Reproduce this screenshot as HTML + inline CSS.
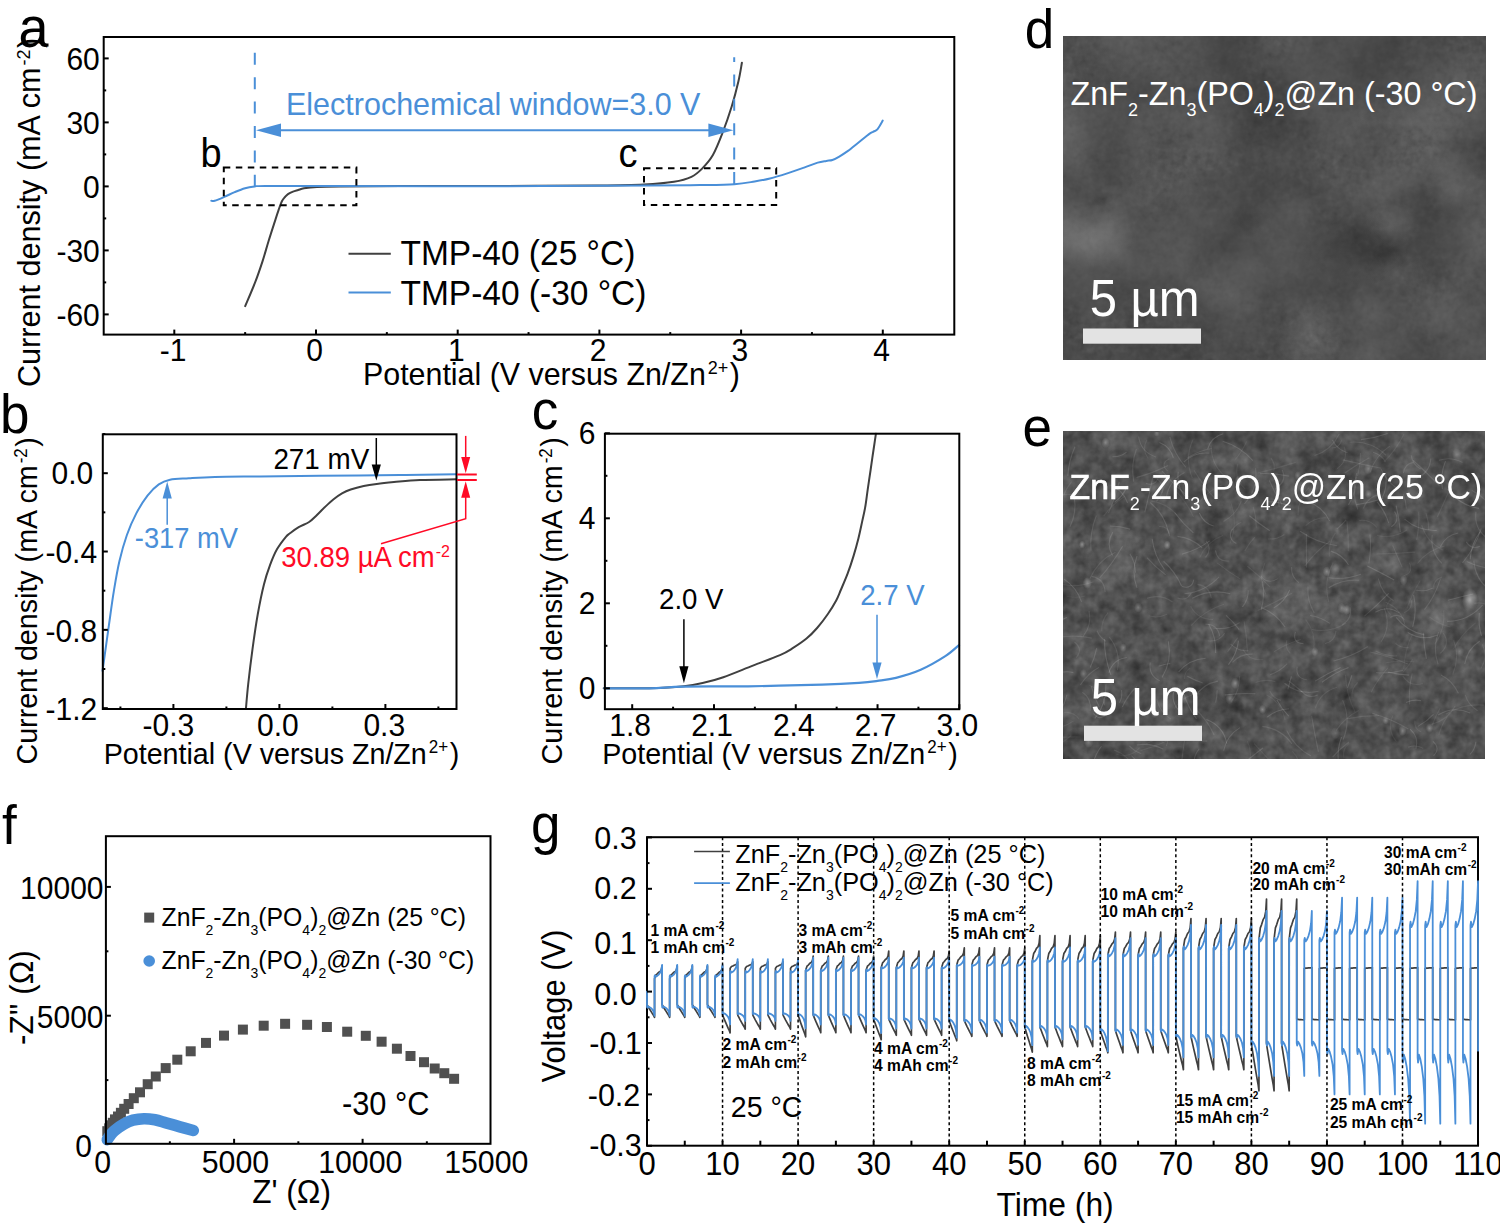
<!DOCTYPE html><html><head><meta charset="utf-8"><style>html,body{margin:0;padding:0;background:#fff;overflow:hidden;}svg{display:block;}</style></head><body>
<svg width="1500" height="1226" viewBox="0 0 1500 1226" font-family='"Liberation Sans", sans-serif'>
<rect width="1500" height="1226" fill="#fff"/>
<path d="M245.2,306.2 C246.9,302.12 252.52,289.17 255.4,281.7 C258.28,274.23 260.3,268.18 262.5,261.4 C264.7,254.62 266.55,247.63 268.6,241 C270.65,234.37 273.1,226.87 274.8,221.6 C276.5,216.33 277.62,212.8 278.8,209.4 C279.98,206 280.87,203.27 281.9,201.2 C282.93,199.13 283.98,198.18 285,197 C286.02,195.82 286.67,195 288,194.1 C289.33,193.2 291.3,192.28 293,191.6 C294.7,190.92 296.37,190.55 298.2,190 C300.03,189.45 300.87,188.82 304,188.3 C307.13,187.78 311,187.22 317,186.9 C323,186.58 326.17,186.53 340,186.4 C353.83,186.27 373.33,186.18 400,186.1 C426.67,186.02 466.67,185.98 500,185.9 C533.33,185.82 576,185.82 600,185.6 C624,185.38 631.68,185.23 644,184.6 C656.32,183.97 666,183.1 673.9,181.8 C681.8,180.5 686.7,179 691.4,176.8 C696.1,174.6 698.52,172.23 702.1,168.6 C705.68,164.97 709.53,160.85 712.9,155 C716.27,149.15 719.17,141.58 722.3,133.5 C725.43,125.42 729,115.25 731.7,106.5 C734.4,97.75 736.8,88.3 738.5,81 C740.2,73.7 741.33,65.75 741.9,62.7" fill="none" stroke="#404040" stroke-width="2" stroke-linejoin="round" stroke-linecap="round"/>
<path d="M211.3,200.8 C211.87,200.8 212.53,201.45 214.7,200.8 C216.87,200.15 220.97,198.35 224.3,196.9 C227.63,195.45 231.23,193.55 234.7,192.1 C238.17,190.65 241.78,189.13 245.1,188.2 C248.42,187.27 251.28,186.88 254.6,186.5 C257.92,186.12 252.43,185.98 265,185.9 C277.57,185.82 290.83,185.95 330,186 C369.17,186.05 446.67,186.27 500,186.2 C553.33,186.13 616.67,185.78 650,185.6 C683.33,185.42 685.93,185.33 700,185.1 C714.07,184.87 725.3,184.8 734.4,184.2 C743.5,183.6 748.67,182.45 754.6,181.5 C760.53,180.55 764.55,179.85 770,178.5 C775.45,177.15 781.52,175.25 787.3,173.4 C793.08,171.55 799.63,169.2 804.7,167.4 C809.77,165.6 814.1,163.68 817.7,162.6 C821.3,161.52 823.85,161.33 826.3,160.9 C828.75,160.47 830.23,160.72 832.4,160 C834.57,159.28 836.7,158.12 839.3,156.6 C841.9,155.08 845.83,152.42 848,150.9 C850.17,149.38 850.13,149.23 852.3,147.5 C854.47,145.77 858.72,142.33 861,140.5 C863.28,138.67 864.55,137.65 866,136.5 C867.45,135.35 868.53,134.38 869.7,133.6 C870.87,132.82 871.85,132.38 873,131.8 C874.15,131.22 875.57,130.95 876.6,130.1 C877.63,129.25 878.18,128.28 879.2,126.7 C880.22,125.12 882.12,121.62 882.7,120.6" fill="none" stroke="#4a8fd8" stroke-width="2" stroke-linejoin="round" stroke-linecap="round"/>
<rect x="103.7" y="37" width="850.6" height="297.6" fill="none" stroke="#000" stroke-width="2"/>
<line x1="174.3" y1="334.6" x2="174.3" y2="329.6" stroke="#000" stroke-width="2"/>
<line x1="316" y1="334.6" x2="316" y2="329.6" stroke="#000" stroke-width="2"/>
<line x1="457.7" y1="334.6" x2="457.7" y2="329.6" stroke="#000" stroke-width="2"/>
<line x1="599.4" y1="334.6" x2="599.4" y2="329.6" stroke="#000" stroke-width="2"/>
<line x1="741.1" y1="334.6" x2="741.1" y2="329.6" stroke="#000" stroke-width="2"/>
<line x1="882.8" y1="334.6" x2="882.8" y2="329.6" stroke="#000" stroke-width="2"/>
<line x1="245.15" y1="334.6" x2="245.15" y2="332.1" stroke="#000" stroke-width="2"/>
<line x1="386.85" y1="334.6" x2="386.85" y2="332.1" stroke="#000" stroke-width="2"/>
<line x1="528.55" y1="334.6" x2="528.55" y2="332.1" stroke="#000" stroke-width="2"/>
<line x1="670.25" y1="334.6" x2="670.25" y2="332.1" stroke="#000" stroke-width="2"/>
<line x1="811.95" y1="334.6" x2="811.95" y2="332.1" stroke="#000" stroke-width="2"/>
<line x1="103.7" y1="314.4" x2="108.7" y2="314.4" stroke="#000" stroke-width="2"/>
<line x1="103.7" y1="250.4" x2="108.7" y2="250.4" stroke="#000" stroke-width="2"/>
<line x1="103.7" y1="186.4" x2="108.7" y2="186.4" stroke="#000" stroke-width="2"/>
<line x1="103.7" y1="122.4" x2="108.7" y2="122.4" stroke="#000" stroke-width="2"/>
<line x1="103.7" y1="58.4" x2="108.7" y2="58.4" stroke="#000" stroke-width="2"/>
<line x1="103.7" y1="282.4" x2="106.2" y2="282.4" stroke="#000" stroke-width="2"/>
<line x1="103.7" y1="218.4" x2="106.2" y2="218.4" stroke="#000" stroke-width="2"/>
<line x1="103.7" y1="154.4" x2="106.2" y2="154.4" stroke="#000" stroke-width="2"/>
<line x1="103.7" y1="90.4" x2="106.2" y2="90.4" stroke="#000" stroke-width="2"/>
<text transform="translate(173,360.5) scale(1,1.05)" font-size="30" text-anchor="middle" fill="#000">-1</text>
<text transform="translate(314.7,360.5) scale(1,1.05)" font-size="30" text-anchor="middle" fill="#000">0</text>
<text transform="translate(456.4,360.5) scale(1,1.05)" font-size="30" text-anchor="middle" fill="#000">1</text>
<text transform="translate(598.1,360.5) scale(1,1.05)" font-size="30" text-anchor="middle" fill="#000">2</text>
<text transform="translate(739.8,360.5) scale(1,1.05)" font-size="30" text-anchor="middle" fill="#000">3</text>
<text transform="translate(881.5,360.5) scale(1,1.05)" font-size="30" text-anchor="middle" fill="#000">4</text>
<text transform="translate(99.8,325.6) scale(1,1.05)" font-size="30" text-anchor="end" fill="#000">-60</text>
<text transform="translate(99.8,261.6) scale(1,1.05)" font-size="30" text-anchor="end" fill="#000">-30</text>
<text transform="translate(99.8,197.6) scale(1,1.05)" font-size="30" text-anchor="end" fill="#000">0</text>
<text transform="translate(99.8,133.6) scale(1,1.05)" font-size="30" text-anchor="end" fill="#000">30</text>
<text transform="translate(99.8,69.6) scale(1,1.05)" font-size="30" text-anchor="end" fill="#000">60</text>
<text transform="translate(363,384.6) scale(1,1.05)" font-size="30.4" fill="#000">Potential (V versus Zn/Zn<tspan font-size="18" dy="-10" dx="2">2+</tspan><tspan dy="10" dx="1.5">)</tspan></text>
<text transform="translate(40.3,387) rotate(-90) scale(1,1.05)" font-size="30.6" fill="#000">Current density (mA cm<tspan font-size="18" dy="-10" dx="2">-2</tspan><tspan dy="10" dx="1.5">)</tspan></text>
<rect x="223.8" y="167.6" width="132.6" height="37.7" fill="none" stroke="#000" stroke-width="2" stroke-dasharray="6.5 5.5"/>
<rect x="644" y="168.2" width="132.2" height="36.9" fill="none" stroke="#000" stroke-width="2" stroke-dasharray="6.5 5.5"/>
<text transform="translate(200.5,167) scale(1,1.05)" font-size="38" fill="#000">b</text>
<text transform="translate(618.5,166.7) scale(1,1.05)" font-size="38" fill="#000">c</text>
<line x1="254.8" y1="52.8" x2="254.8" y2="186.5" stroke="#4a8fd8" stroke-width="2" stroke-dasharray="12 12.4"/>
<line x1="734.2" y1="57.2" x2="734.2" y2="184.2" stroke="#4a8fd8" stroke-width="2" stroke-dasharray="12 12.4" stroke-dashoffset="7.2"/>
<line x1="275" y1="130.3" x2="714" y2="130.3" stroke="#4a8fd8" stroke-width="2"/>
<polygon points="256,130.3 281,123.5 281,137.1" fill="#4a8fd8"/>
<polygon points="733.4,130.3 708.4,137.1 708.4,123.5" fill="#4a8fd8"/>
<text transform="translate(286,115.3) scale(1,1.05)" font-size="30.5" fill="#4a8fd8">Electrochemical window=3.0 V</text>
<line x1="348.5" y1="253.8" x2="390.8" y2="253.8" stroke="#404040" stroke-width="2"/>
<line x1="348.5" y1="292.6" x2="390.8" y2="292.6" stroke="#4a8fd8" stroke-width="2"/>
<text transform="translate(400.5,264.6) scale(1,1.05)" font-size="33.5" fill="#000">TMP-40 (25 °C)</text>
<text transform="translate(400.5,305) scale(1,1.05)" font-size="33.5" fill="#000">TMP-40 (-30 °C)</text>
<text transform="translate(18.5,47) scale(1,1.05)" font-size="54" fill="#000">a</text>
<path d="M102.5,671 C103.13,666.47 105.05,652.72 106.3,643.8 C107.55,634.88 108.75,626.25 110,617.5 C111.25,608.75 112.23,600.67 113.8,591.3 C115.37,581.93 117.22,570.68 119.4,561.3 C121.58,551.92 124.08,542.98 126.9,535 C129.72,527.02 132.87,519.97 136.3,513.4 C139.73,506.83 143.75,500.43 147.5,495.6 C151.25,490.77 155.05,487.05 158.8,484.4 C162.55,481.75 165,480.73 170,479.7 C175,478.67 181.3,478.67 188.8,478.2 C196.3,477.73 203.13,477.2 215,476.9 C226.87,476.6 242.5,476.58 260,476.4 C277.5,476.22 296.67,476.03 320,475.8 C343.33,475.57 377.33,475.25 400,475 C422.67,474.75 446.67,474.42 456,474.3" fill="none" stroke="#4a8fd8" stroke-width="2" stroke-linejoin="round" stroke-linecap="round"/>
<path d="M245.9,709 C246.28,704.87 247.1,694.18 248.2,684.2 C249.3,674.22 250.9,660.8 252.5,649.1 C254.1,637.4 255.88,624.82 257.8,614 C259.72,603.18 261.95,592.38 264,584.2 C266.05,576.02 267.92,570.75 270.1,564.9 C272.28,559.05 274.47,553.78 277.1,549.1 C279.73,544.42 283.75,539.43 285.9,536.8 C288.05,534.17 287.87,534.9 290,533.3 C292.13,531.7 295.52,529.08 298.7,527.2 C301.88,525.32 306.22,523.88 309.1,522 C311.98,520.12 313.4,518.35 316,515.9 C318.6,513.45 321.82,510.03 324.7,507.3 C327.58,504.57 330.42,501.82 333.3,499.5 C336.18,497.18 339.1,495.07 342,493.4 C344.9,491.73 347.08,490.73 350.7,489.5 C354.32,488.27 359.37,486.93 363.7,486 C368.03,485.07 371.65,484.55 376.7,483.9 C381.75,483.25 386.78,482.75 394,482.1 C401.22,481.45 409.63,480.47 420,480 C430.37,479.53 450.17,479.42 456.2,479.3" fill="none" stroke="#404040" stroke-width="2" stroke-linejoin="round" stroke-linecap="round"/>
<rect x="102.8" y="434.3" width="353.7" height="274.7" fill="none" stroke="#000" stroke-width="2"/>
<line x1="173.41" y1="709" x2="173.41" y2="704" stroke="#000" stroke-width="2"/>
<line x1="279.4" y1="709" x2="279.4" y2="704" stroke="#000" stroke-width="2"/>
<line x1="385.39" y1="709" x2="385.39" y2="704" stroke="#000" stroke-width="2"/>
<line x1="120.41" y1="709" x2="120.41" y2="706.5" stroke="#000" stroke-width="2"/>
<line x1="226.4" y1="709" x2="226.4" y2="706.5" stroke="#000" stroke-width="2"/>
<line x1="332.39" y1="709" x2="332.39" y2="706.5" stroke="#000" stroke-width="2"/>
<line x1="438.38" y1="709" x2="438.38" y2="706.5" stroke="#000" stroke-width="2"/>
<line x1="102.8" y1="473.2" x2="107.8" y2="473.2" stroke="#000" stroke-width="2"/>
<line x1="102.8" y1="551.52" x2="107.8" y2="551.52" stroke="#000" stroke-width="2"/>
<line x1="102.8" y1="629.84" x2="107.8" y2="629.84" stroke="#000" stroke-width="2"/>
<line x1="102.8" y1="708.16" x2="107.8" y2="708.16" stroke="#000" stroke-width="2"/>
<line x1="102.8" y1="434.04" x2="105.3" y2="434.04" stroke="#000" stroke-width="2"/>
<line x1="102.8" y1="512.36" x2="105.3" y2="512.36" stroke="#000" stroke-width="2"/>
<line x1="102.8" y1="590.68" x2="105.3" y2="590.68" stroke="#000" stroke-width="2"/>
<line x1="102.8" y1="669" x2="105.3" y2="669" stroke="#000" stroke-width="2"/>
<text transform="translate(168.31,735.9) scale(1,1.05)" font-size="30" text-anchor="middle" fill="#000">-0.3</text>
<text transform="translate(277.9,735.9) scale(1,1.05)" font-size="30" text-anchor="middle" fill="#000">0.0</text>
<text transform="translate(384.29,735.9) scale(1,1.05)" font-size="30" text-anchor="middle" fill="#000">0.3</text>
<text transform="translate(72.4,484.3) scale(1,1.05)" font-size="30" text-anchor="middle" fill="#000">0.0</text>
<text transform="translate(71.3,563) scale(1,1.05)" font-size="30" text-anchor="middle" fill="#000">-0.4</text>
<text transform="translate(71.4,641.9) scale(1,1.05)" font-size="30" text-anchor="middle" fill="#000">-0.8</text>
<text transform="translate(71.4,719.5) scale(1,1.05)" font-size="30" text-anchor="middle" fill="#000">-1.2</text>
<text transform="translate(103.7,763.7) scale(1,1.05)" font-size="28.65" fill="#000">Potential (V versus Zn/Zn<tspan font-size="17" dy="-10" dx="2">2+</tspan><tspan dy="10" dx="1.5">)</tspan></text>
<text transform="translate(37,764.5) rotate(-90) scale(1,1.05)" font-size="28.65" fill="#000">Current density (mA cm<tspan font-size="17" dy="-10" dx="2">-2</tspan><tspan dy="10" dx="1.5">)</tspan></text>
<text transform="translate(273.4,468.9) scale(1,1.05)" font-size="27.8" fill="#000">271 mV</text>
<line x1="376.3" y1="438" x2="376.3" y2="466" stroke="#000" stroke-width="1.5"/>
<polygon points="376.3,480.6 371.7,464.6 380.9,464.6" fill="#000"/>
<text transform="translate(134.8,548.3) scale(1,1.05)" font-size="27.3" fill="#4a8fd8">-317 mV</text>
<line x1="167.2" y1="524.7" x2="167.2" y2="497" stroke="#4a8fd8" stroke-width="1.5"/>
<polygon points="167.2,481.6 171.8,498.4 162.6,498.4" fill="#4a8fd8"/>
<text transform="translate(281.3,567.1) scale(1,1.05)" font-size="27.5" fill="#ff0a26">30.89 µA cm<tspan font-size="16" dy="-10" dx="1">-2</tspan></text>
<line x1="457" y1="474.5" x2="476.8" y2="474.5" stroke="#ff0a26" stroke-width="2"/>
<line x1="457" y1="480" x2="476.8" y2="480" stroke="#ff0a26" stroke-width="2"/>
<line x1="465.7" y1="435.9" x2="465.7" y2="458" stroke="#ff0a26" stroke-width="1.5"/>
<polygon points="465.7,473.3 461.2,457.1 470.2,457.1" fill="#ff0a26"/>
<polygon points="465.7,481.3 470.2,497.7 461.2,497.7" fill="#ff0a26"/>
<polyline points="465.7,496 465.7,518.7 381,543.7" fill="none" stroke="#ff0a26" stroke-width="1.5"/>
<text transform="translate(0,432.5) scale(1,1.05)" font-size="53" fill="#000">b</text>
<path d="M603.7,688.3 C611.3,688.28 635.93,688.55 649.3,688.2 C662.67,687.85 674.85,687.1 683.9,686.2 C692.95,685.3 697.03,684.3 703.6,682.8 C710.17,681.3 715.08,680.07 723.3,677.2 C731.52,674.33 743.45,669.28 752.9,665.6 C762.35,661.92 773.37,658 780,655.1 C786.63,652.2 788.28,650.95 792.7,648.2 C797.12,645.45 802.43,641.97 806.5,638.6 C810.57,635.23 813.57,632.07 817.1,628 C820.63,623.93 824.52,618.8 827.7,614.2 C830.88,609.6 834.02,604.43 836.2,600.4 C838.38,596.37 838.9,594.45 840.8,590 C842.7,585.55 845.48,579.35 847.6,573.7 C849.72,568.05 851.7,561.97 853.5,556.1 C855.3,550.23 856.93,544.37 858.4,538.5 C859.87,532.63 861.17,526.12 862.3,520.9 C863.43,515.68 864.3,512.42 865.2,507.2 C866.1,501.98 866.8,495.8 867.7,489.6 C868.6,483.4 869.78,475.6 870.6,470 C871.42,464.4 871.97,460.33 872.6,456 C873.23,451.67 873.85,447.7 874.4,444 C874.95,440.3 875.65,435.5 875.9,433.8" fill="none" stroke="#404040" stroke-width="2" stroke-linejoin="round" stroke-linecap="round"/>
<path d="M604.5,688.3 C611.97,688.3 636.07,688.58 649.3,688.3 C662.53,688.02 667.45,686.93 683.9,686.6 C700.35,686.27 724.98,686.63 748,686.3 C771.02,685.97 803.5,685.18 822,684.6 C840.5,684.02 849.75,683.42 859,682.8 C868.25,682.18 871.33,681.72 877.5,680.9 C883.67,680.08 888.8,679.75 896,677.9 C903.2,676.05 912.48,673.42 920.7,669.8 C928.92,666.18 938.92,660.32 945.3,656.2 C951.68,652.08 956.72,646.95 959,645.1" fill="none" stroke="#4a8fd8" stroke-width="2.2" stroke-linejoin="round" stroke-linecap="round"/>
<rect x="604.9" y="433.7" width="354.4" height="275.5" fill="none" stroke="#000" stroke-width="2"/>
<line x1="632.2" y1="709.2" x2="632.2" y2="704.2" stroke="#000" stroke-width="2"/>
<line x1="713.98" y1="709.2" x2="713.98" y2="704.2" stroke="#000" stroke-width="2"/>
<line x1="795.76" y1="709.2" x2="795.76" y2="704.2" stroke="#000" stroke-width="2"/>
<line x1="877.54" y1="709.2" x2="877.54" y2="704.2" stroke="#000" stroke-width="2"/>
<line x1="959.32" y1="709.2" x2="959.32" y2="704.2" stroke="#000" stroke-width="2"/>
<line x1="673.09" y1="709.2" x2="673.09" y2="706.7" stroke="#000" stroke-width="2"/>
<line x1="754.87" y1="709.2" x2="754.87" y2="706.7" stroke="#000" stroke-width="2"/>
<line x1="836.65" y1="709.2" x2="836.65" y2="706.7" stroke="#000" stroke-width="2"/>
<line x1="918.43" y1="709.2" x2="918.43" y2="706.7" stroke="#000" stroke-width="2"/>
<line x1="604.9" y1="688.3" x2="609.9" y2="688.3" stroke="#000" stroke-width="2"/>
<line x1="604.9" y1="603.3" x2="609.9" y2="603.3" stroke="#000" stroke-width="2"/>
<line x1="604.9" y1="518.3" x2="609.9" y2="518.3" stroke="#000" stroke-width="2"/>
<line x1="604.9" y1="433.3" x2="609.9" y2="433.3" stroke="#000" stroke-width="2"/>
<line x1="604.9" y1="645.8" x2="607.4" y2="645.8" stroke="#000" stroke-width="2"/>
<line x1="604.9" y1="560.8" x2="607.4" y2="560.8" stroke="#000" stroke-width="2"/>
<line x1="604.9" y1="475.8" x2="607.4" y2="475.8" stroke="#000" stroke-width="2"/>
<text transform="translate(630.2,735.8) scale(1,1.05)" font-size="30" text-anchor="middle" fill="#000">1.8</text>
<text transform="translate(711.98,735.8) scale(1,1.05)" font-size="30" text-anchor="middle" fill="#000">2.1</text>
<text transform="translate(793.76,735.8) scale(1,1.05)" font-size="30" text-anchor="middle" fill="#000">2.4</text>
<text transform="translate(875.54,735.8) scale(1,1.05)" font-size="30" text-anchor="middle" fill="#000">2.7</text>
<text transform="translate(957.32,735.8) scale(1,1.05)" font-size="30" text-anchor="middle" fill="#000">3.0</text>
<text transform="translate(595.5,699.3) scale(1,1.05)" font-size="30" text-anchor="end" fill="#000">0</text>
<text transform="translate(595.5,614.3) scale(1,1.05)" font-size="30" text-anchor="end" fill="#000">2</text>
<text transform="translate(595.5,529.3) scale(1,1.05)" font-size="30" text-anchor="end" fill="#000">4</text>
<text transform="translate(595.5,444.3) scale(1,1.05)" font-size="30" text-anchor="end" fill="#000">6</text>
<text transform="translate(602.2,763.7) scale(1,1.05)" font-size="28.65" fill="#000">Potential (V versus Zn/Zn<tspan font-size="17" dy="-10" dx="2">2+</tspan><tspan dy="10" dx="1.5">)</tspan></text>
<text transform="translate(562,764.5) rotate(-90) scale(1,1.05)" font-size="28.65" fill="#000">Current density (mA cm<tspan font-size="17" dy="-10" dx="2">-2</tspan><tspan dy="10" dx="1.5">)</tspan></text>
<text transform="translate(659.1,609.3) scale(1,1.05)" font-size="27.6" fill="#000">2.0 V</text>
<line x1="683.9" y1="619.2" x2="683.9" y2="668" stroke="#000" stroke-width="1.5"/>
<polygon points="683.9,683.3 679.3,666.3 688.5,666.3" fill="#000"/>
<text transform="translate(860.2,604.9) scale(1,1.05)" font-size="27.6" fill="#4a8fd8">2.7 V</text>
<line x1="877" y1="614.8" x2="877" y2="664" stroke="#4a8fd8" stroke-width="1.5"/>
<polygon points="877,678.9 872.4,662.4 881.6,662.4" fill="#4a8fd8"/>
<text transform="translate(531.7,429.3) scale(1,1.05)" font-size="53" fill="#000">c</text>
<rect x="102.3" y="1126.2" width="10" height="10" fill="#505050"/>
<rect x="104.2" y="1123.3" width="10" height="10" fill="#505050"/>
<rect x="106" y="1120.3" width="10" height="10" fill="#505050"/>
<rect x="107.8" y="1117.8" width="10" height="10" fill="#505050"/>
<rect x="110" y="1114.4" width="10" height="10" fill="#505050"/>
<rect x="113" y="1111.5" width="10" height="10" fill="#505050"/>
<rect x="115.9" y="1107.8" width="10" height="10" fill="#505050"/>
<rect x="119.2" y="1103.8" width="10" height="10" fill="#505050"/>
<rect x="123.6" y="1099" width="10" height="10" fill="#505050"/>
<rect x="128.8" y="1093.2" width="10" height="10" fill="#505050"/>
<rect x="135" y="1087.3" width="10" height="10" fill="#505050"/>
<rect x="142.7" y="1079.2" width="10" height="10" fill="#505050"/>
<rect x="150.8" y="1071.5" width="10" height="10" fill="#505050"/>
<rect x="160.7" y="1063.1" width="10" height="10" fill="#505050"/>
<rect x="172.3" y="1054.7" width="10" height="10" fill="#505050"/>
<rect x="185.7" y="1046.3" width="10" height="10" fill="#505050"/>
<rect x="201" y="1037.9" width="10" height="10" fill="#505050"/>
<rect x="219" y="1030.6" width="10" height="10" fill="#505050"/>
<rect x="237.9" y="1024.6" width="10" height="10" fill="#505050"/>
<rect x="258.7" y="1020.7" width="10" height="10" fill="#505050"/>
<rect x="280.1" y="1018.8" width="10" height="10" fill="#505050"/>
<rect x="302.1" y="1019.8" width="10" height="10" fill="#505050"/>
<rect x="321.9" y="1022" width="10" height="10" fill="#505050"/>
<rect x="342.2" y="1026.7" width="10" height="10" fill="#505050"/>
<rect x="360.8" y="1030.8" width="10" height="10" fill="#505050"/>
<rect x="376.6" y="1036.7" width="10" height="10" fill="#505050"/>
<rect x="391.9" y="1043.7" width="10" height="10" fill="#505050"/>
<rect x="405.5" y="1051" width="10" height="10" fill="#505050"/>
<rect x="419" y="1057.2" width="10" height="10" fill="#505050"/>
<rect x="429.7" y="1063.5" width="10" height="10" fill="#505050"/>
<rect x="439.3" y="1068.2" width="10" height="10" fill="#505050"/>
<rect x="449.1" y="1073.8" width="10" height="10" fill="#505050"/>
<path d="M107.3,1139.6 C107.83,1138.83 109.27,1136.52 110.5,1135 C111.73,1133.48 112.42,1132.35 114.7,1130.5 C116.98,1128.65 121.15,1125.62 124.2,1123.9 C127.25,1122.18 129.7,1121.07 133,1120.2 C136.3,1119.33 140.33,1118.77 144,1118.7 C147.67,1118.63 151.33,1119.12 155,1119.8 C158.67,1120.48 161.83,1121.63 166,1122.8 C170.17,1123.97 175.45,1125.52 180,1126.8 C184.55,1128.08 191.08,1129.88 193.3,1130.5" fill="none" stroke="#4a8fd8" stroke-width="11.6" stroke-linejoin="round" stroke-linecap="round"/>
<rect x="105.9" y="836.2" width="384.6" height="307.6" fill="none" stroke="#000" stroke-width="2"/>
<line x1="234.1" y1="1143.8" x2="234.1" y2="1138.8" stroke="#000" stroke-width="2"/>
<line x1="362.6" y1="1143.8" x2="362.6" y2="1138.8" stroke="#000" stroke-width="2"/>
<line x1="169.85" y1="1143.8" x2="169.85" y2="1141.3" stroke="#000" stroke-width="2"/>
<line x1="298.35" y1="1143.8" x2="298.35" y2="1141.3" stroke="#000" stroke-width="2"/>
<line x1="426.85" y1="1143.8" x2="426.85" y2="1141.3" stroke="#000" stroke-width="2"/>
<line x1="105.9" y1="1015.7" x2="110.9" y2="1015.7" stroke="#000" stroke-width="2"/>
<line x1="105.9" y1="886.9" x2="110.9" y2="886.9" stroke="#000" stroke-width="2"/>
<line x1="105.9" y1="1080.1" x2="108.4" y2="1080.1" stroke="#000" stroke-width="2"/>
<line x1="105.9" y1="951.3" x2="108.4" y2="951.3" stroke="#000" stroke-width="2"/>
<text transform="translate(102.8,1173.4) scale(1,1.05)" font-size="30.3" text-anchor="middle" fill="#000">0</text>
<text transform="translate(235.4,1173.4) scale(1,1.05)" font-size="30.3" text-anchor="middle" fill="#000">5000</text>
<text transform="translate(360.3,1173.4) scale(1,1.05)" font-size="30.3" text-anchor="middle" fill="#000">10000</text>
<text transform="translate(486.3,1173.4) scale(1,1.05)" font-size="30.3" text-anchor="middle" fill="#000">15000</text>
<text transform="translate(103.5,1027.5) scale(1,1.05)" font-size="30" text-anchor="end" fill="#000">5000</text>
<text transform="translate(103.5,898.7) scale(1,1.05)" font-size="30" text-anchor="end" fill="#000">10000</text>
<text transform="translate(91.9,1157) scale(1,1.05)" font-size="30" text-anchor="end" fill="#000">0</text>
<text transform="translate(252.2,1202.7) scale(1,1.05)" font-size="31.6" fill="#000">Z' (Ω)</text>
<text transform="translate(33.2,1045) rotate(-90) scale(1,1.05)" font-size="31.4" fill="#000">-Z'' (Ω)</text>
<rect x="144.2" y="912.6" width="10" height="10" fill="#505050"/>
<circle cx="149.2" cy="961" r="5.8" fill="#4a8fd8"/>
<text transform="translate(161.5,925.8) scale(1,1.05)" font-size="24.8" fill="#000">ZnF<tspan font-size="14" dy="8.6">2</tspan><tspan dy="-8.6">-Zn</tspan><tspan font-size="14" dy="8.6">3</tspan><tspan dy="-8.6">(PO</tspan><tspan font-size="14" dy="8.6">4</tspan><tspan dy="-8.6">)</tspan><tspan font-size="14" dy="8.6">2</tspan><tspan dy="-8.6">@Zn (25 °C)</tspan></text>
<text transform="translate(161.5,969) scale(1,1.05)" font-size="24.8" fill="#000">ZnF<tspan font-size="14" dy="8.6">2</tspan><tspan dy="-8.6">-Zn</tspan><tspan font-size="14" dy="8.6">3</tspan><tspan dy="-8.6">(PO</tspan><tspan font-size="14" dy="8.6">4</tspan><tspan dy="-8.6">)</tspan><tspan font-size="14" dy="8.6">2</tspan><tspan dy="-8.6">@Zn (-30 °C)</tspan></text>
<text transform="translate(342,1114.7) scale(1,1.05)" font-size="30.8" fill="#000">-30 °C</text>
<text transform="translate(2.1,843.5) scale(1,1.05)" font-size="53" fill="#000">f</text>
<rect x="647" y="837.2" width="831" height="308.5" fill="none" stroke="#000" stroke-width="2"/>
<polyline points="647,991.6 647,1004.45 647.45,1005.48 648.36,1007.02 649.64,1009.2 651.16,1011.65 652.67,1014.09 653.8,1015.76 654.55,1017.3 654.55,978.75 655.01,977.21 655.91,974.89 657.2,973.87 658.71,972.33 660.22,971.55 661.35,969.75 662.11,965.9 662.11,1004.45 662.56,1005.48 663.47,1007.02 664.75,1009.2 666.27,1011.65 667.78,1014.09 668.91,1015.76 669.66,1017.3 669.66,978.75 670.12,977.21 671.02,974.89 672.31,973.87 673.82,972.33 675.33,971.55 676.46,969.75 677.22,965.9 677.22,1004.45 677.67,1005.48 678.58,1007.02 679.86,1009.2 681.38,1011.65 682.89,1014.09 684.02,1015.76 684.77,1017.3 684.77,978.75 685.23,977.21 686.13,974.89 687.42,973.87 688.93,972.33 690.44,971.55 691.57,969.75 692.33,965.9 692.33,1004.45 692.78,1005.48 693.69,1007.02 694.97,1009.2 696.49,1011.65 698,1014.09 699.13,1015.76 699.88,1017.3 699.88,978.75 700.34,977.21 701.24,974.89 702.53,973.87 704.04,972.33 705.55,971.55 706.68,969.75 707.44,965.9 707.44,1004.45 707.89,1005.48 708.8,1007.02 710.08,1009.2 711.6,1011.65 713.11,1014.09 714.24,1015.76 715,1017.3 715,978.75 715.45,977.21 716.35,974.89 717.64,973.87 719.15,972.33 720.66,971.55 721.79,969.75 722.55,965.9 722.55,1014.73 723,1016.18 723.91,1018.36 725.19,1021.44 726.71,1024.89 728.22,1028.34 729.35,1030.7 730.11,1032.87 730.11,968.47 730.56,967.67 731.46,966.47 732.75,965.93 734.26,965.13 735.77,964.73 736.9,963.79 737.66,961.79 737.66,1014.73 738.11,1015.88 739.02,1017.61 740.3,1020.06 741.82,1022.79 743.33,1025.52 744.46,1027.39 745.22,1029.12 745.22,968.47 745.67,967.67 746.57,966.47 747.86,965.93 749.37,965.13 750.88,964.73 752.01,963.79 752.77,961.79 752.77,1014.73 753.22,1015.88 754.13,1017.61 755.41,1020.06 756.93,1022.79 758.44,1025.52 759.57,1027.39 760.33,1029.12 760.33,968.47 760.78,967.67 761.68,966.47 762.97,965.93 764.48,965.13 765.99,964.73 767.12,963.79 767.88,961.79 767.88,1014.73 768.33,1015.88 769.24,1017.61 770.52,1020.06 772.04,1022.79 773.55,1025.52 774.68,1027.39 775.43,1029.12 775.43,968.47 775.89,967.67 776.79,966.47 778.08,965.93 779.59,965.13 781.1,964.73 782.23,963.79 782.99,961.79 782.99,1014.73 783.44,1015.88 784.35,1017.61 785.63,1020.06 787.15,1022.79 788.66,1025.52 789.79,1027.39 790.54,1029.12 790.54,968.47 791,967.67 791.9,966.47 793.19,965.93 794.7,965.13 796.21,964.73 797.34,963.79 798.1,961.79 798.1,1014.73 798.55,1016.5 799.46,1019.15 800.74,1022.91 802.26,1027.11 803.77,1031.31 804.9,1034.18 805.65,1036.83 805.65,970.53 806.11,968.8 807.01,966.21 808.3,965.06 809.81,963.33 811.32,962.47 812.45,960.45 813.21,956.13 813.21,1014.73 813.66,1016.17 814.57,1018.33 815.85,1021.39 817.37,1024.8 818.88,1028.22 820.01,1030.56 820.76,1032.72 820.76,970.53 821.22,968.8 822.12,966.21 823.41,965.06 824.92,963.33 826.43,962.47 827.56,960.45 828.32,956.13 828.32,1014.73 828.77,1016.17 829.68,1018.33 830.96,1021.39 832.48,1024.8 833.99,1028.22 835.12,1030.56 835.88,1032.72 835.88,970.53 836.33,968.8 837.23,966.21 838.52,965.06 840.03,963.33 841.54,962.47 842.67,960.45 843.43,956.13 843.43,1014.73 843.88,1016.17 844.79,1018.33 846.07,1021.39 847.59,1024.8 849.1,1028.22 850.23,1030.56 850.99,1032.72 850.99,970.53 851.44,968.8 852.34,966.21 853.63,965.06 855.14,963.33 856.65,962.47 857.78,960.45 858.54,956.13 858.54,1014.73 858.99,1016.17 859.9,1018.33 861.18,1021.39 862.7,1024.8 864.21,1028.22 865.34,1030.56 866.1,1032.72 866.1,970.53 866.55,968.8 867.45,966.21 868.74,965.06 870.25,963.33 871.76,962.47 872.89,960.45 873.65,956.13 873.65,1018.84 874.1,1020.51 875.01,1023.01 876.29,1026.54 877.81,1030.5 879.32,1034.45 880.45,1037.16 881.2,1039.66 881.2,967.96 881.66,965.92 882.56,962.87 883.85,961.51 885.36,959.48 886.87,958.46 888,956.08 888.76,950.99 888.76,1018.84 889.21,1020.16 890.12,1022.13 891.4,1024.93 892.92,1028.05 894.43,1031.18 895.56,1033.32 896.32,1035.29 896.32,967.96 896.77,965.92 897.67,962.87 898.96,961.51 900.47,959.48 901.98,958.46 903.11,956.08 903.87,950.99 903.87,1018.84 904.32,1020.16 905.23,1022.13 906.51,1024.93 908.03,1028.05 909.54,1031.18 910.67,1033.32 911.42,1035.29 911.42,967.96 911.88,965.92 912.78,962.87 914.07,961.51 915.58,959.48 917.09,958.46 918.22,956.08 918.98,950.99 918.98,1018.84 919.43,1020.16 920.34,1022.13 921.62,1024.93 923.14,1028.05 924.65,1031.18 925.78,1033.32 926.53,1035.29 926.53,967.96 926.99,965.92 927.89,962.87 929.18,961.51 930.69,959.48 932.2,958.46 933.33,956.08 934.09,950.99 934.09,1018.84 934.54,1020.16 935.45,1022.13 936.73,1024.93 938.25,1028.05 939.76,1031.18 940.89,1033.32 941.64,1035.29 941.64,967.96 942.1,965.92 943,962.87 944.29,961.51 945.8,959.48 947.31,958.46 948.44,956.08 949.2,950.99 949.2,1020.38 949.65,1022.02 950.56,1024.47 951.84,1027.93 953.36,1031.81 954.87,1035.69 956,1038.34 956.75,1040.79 956.75,965.39 957.21,963.29 958.11,960.14 959.4,958.75 960.91,956.65 962.42,955.6 963.55,953.15 964.31,947.91 964.31,1020.38 964.76,1021.66 965.67,1023.57 966.95,1026.28 968.47,1029.31 969.98,1032.33 971.11,1034.41 971.87,1036.32 971.87,965.39 972.32,963.29 973.22,960.14 974.51,958.75 976.02,956.65 977.53,955.6 978.66,953.15 979.42,947.91 979.42,1020.38 979.87,1021.66 980.78,1023.57 982.06,1026.28 983.58,1029.31 985.09,1032.33 986.22,1034.41 986.97,1036.32 986.97,965.39 987.43,963.29 988.33,960.14 989.62,958.75 991.13,956.65 992.64,955.6 993.77,953.15 994.53,947.91 994.53,1020.38 994.98,1021.66 995.89,1023.57 997.17,1026.28 998.69,1029.31 1000.2,1032.33 1001.33,1034.41 1002.09,1036.32 1002.09,965.39 1002.54,963.29 1003.44,960.14 1004.73,958.75 1006.24,956.65 1007.75,955.6 1008.88,953.15 1009.64,947.91 1009.64,1020.38 1010.09,1021.66 1011,1023.57 1012.28,1026.28 1013.8,1029.31 1015.31,1032.33 1016.44,1034.41 1017.19,1036.32 1017.19,965.39 1017.65,963.29 1018.55,960.14 1019.84,958.75 1021.35,956.65 1022.86,955.6 1023.99,953.15 1024.75,947.91 1024.75,1026.55 1025.2,1028.6 1026.11,1031.66 1027.39,1036 1028.91,1040.86 1030.42,1045.71 1031.55,1049.03 1032.31,1052.1 1032.31,961.27 1032.76,958.19 1033.66,953.56 1034.95,951.51 1036.46,948.42 1037.97,946.88 1039.1,943.28 1039.86,935.57 1039.86,1026.55 1040.31,1028.16 1041.22,1030.56 1042.5,1033.97 1044.02,1037.78 1045.53,1041.59 1046.66,1044.19 1047.41,1046.6 1047.41,961.27 1047.87,958.19 1048.77,953.56 1050.06,951.51 1051.57,948.42 1053.08,946.88 1054.21,943.28 1054.97,935.57 1054.97,1026.55 1055.42,1028.16 1056.33,1030.56 1057.61,1033.97 1059.13,1037.78 1060.64,1041.59 1061.77,1044.19 1062.53,1046.6 1062.53,961.27 1062.98,958.19 1063.88,953.56 1065.17,951.51 1066.68,948.42 1068.19,946.88 1069.32,943.28 1070.08,935.57 1070.08,1026.55 1070.53,1028.16 1071.44,1030.56 1072.72,1033.97 1074.24,1037.78 1075.75,1041.59 1076.88,1044.19 1077.63,1046.6 1077.63,961.27 1078.09,958.19 1078.99,953.56 1080.28,951.51 1081.79,948.42 1083.3,946.88 1084.43,943.28 1085.19,935.57 1085.19,1026.55 1085.64,1028.16 1086.55,1030.56 1087.83,1033.97 1089.35,1037.78 1090.86,1041.59 1091.99,1044.19 1092.74,1046.6 1092.74,961.27 1093.2,958.19 1094.1,953.56 1095.39,951.51 1096.9,948.42 1098.41,946.88 1099.54,943.28 1100.3,935.57 1100.3,1030.15 1100.75,1031.96 1101.66,1034.67 1102.94,1038.52 1104.46,1042.81 1105.97,1047.11 1107.1,1050.05 1107.86,1052.77 1107.86,955.62 1108.31,952.78 1109.21,948.53 1110.5,946.64 1112.01,943.8 1113.52,942.38 1114.65,939.07 1115.41,931.98 1115.41,1030.15 1115.86,1031.96 1116.77,1034.67 1118.05,1038.52 1119.57,1042.81 1121.08,1047.11 1122.21,1050.05 1122.96,1052.77 1122.96,955.62 1123.42,952.78 1124.32,948.53 1125.61,946.64 1127.12,943.8 1128.63,942.38 1129.76,939.07 1130.52,931.98 1130.52,1030.15 1130.97,1031.96 1131.88,1034.67 1133.16,1038.52 1134.68,1042.81 1136.19,1047.11 1137.32,1050.05 1138.08,1052.77 1138.08,955.62 1138.53,952.78 1139.43,948.53 1140.72,946.64 1142.23,943.8 1143.74,942.38 1144.87,939.07 1145.63,931.98 1145.63,1030.15 1146.08,1031.96 1146.99,1034.67 1148.27,1038.52 1149.79,1042.81 1151.3,1047.11 1152.43,1050.05 1153.18,1052.77 1153.18,955.62 1153.64,952.78 1154.54,948.53 1155.83,946.64 1157.34,943.8 1158.85,942.38 1159.98,939.07 1160.74,931.98 1160.74,1030.15 1161.19,1031.96 1162.1,1034.67 1163.38,1038.52 1164.9,1042.81 1166.41,1047.11 1167.54,1050.05 1168.3,1052.77 1168.3,955.62 1168.75,952.78 1169.65,948.53 1170.94,946.64 1172.45,943.8 1173.96,942.38 1175.09,939.07 1175.85,931.98 1175.85,1035.8 1176.3,1038.52 1177.21,1042.59 1178.49,1048.36 1180.01,1054.8 1181.52,1061.25 1182.65,1065.66 1183.4,1069.73 1183.4,948.42 1183.86,944.85 1184.76,939.48 1186.05,937.1 1187.56,933.52 1189.07,931.73 1190.2,927.56 1190.96,918.61 1190.96,1035.8 1191.41,1038.52 1192.32,1042.59 1193.6,1048.36 1195.12,1054.8 1196.63,1061.25 1197.76,1065.66 1198.51,1069.73 1198.51,948.42 1198.97,944.85 1199.87,939.48 1201.16,937.1 1202.67,933.52 1204.18,931.73 1205.31,927.56 1206.07,918.61 1206.07,1035.8 1206.52,1038.52 1207.43,1042.59 1208.71,1048.36 1210.23,1054.8 1211.74,1061.25 1212.87,1065.66 1213.62,1069.73 1213.62,948.42 1214.08,944.85 1214.98,939.48 1216.27,937.1 1217.78,933.52 1219.29,931.73 1220.42,927.56 1221.18,918.61 1221.18,1035.8 1221.63,1038.52 1222.54,1042.59 1223.82,1048.36 1225.34,1054.8 1226.85,1061.25 1227.98,1065.66 1228.74,1069.73 1228.74,948.42 1229.19,944.85 1230.09,939.48 1231.38,937.1 1232.89,933.52 1234.4,931.73 1235.53,927.56 1236.29,918.61 1236.29,1035.8 1236.74,1038.52 1237.65,1042.59 1238.93,1048.36 1240.45,1054.8 1241.96,1061.25 1243.09,1065.66 1243.85,1069.73 1243.85,948.42 1244.3,944.85 1245.2,939.48 1246.49,937.1 1248,933.52 1249.51,931.73 1250.64,927.56 1251.4,918.61 1251.4,1043 1251.85,1046.82 1252.76,1052.56 1254.04,1060.69 1255.56,1069.77 1257.07,1078.85 1258.2,1085.07 1258.95,1090.8 1258.95,940.2 1259.41,935.27 1260.31,927.86 1261.6,924.57 1263.11,919.64 1264.62,917.17 1265.75,911.42 1266.51,899.08 1266.51,1043 1266.96,1046.82 1267.87,1052.56 1269.15,1060.69 1270.67,1069.77 1272.18,1078.85 1273.31,1085.07 1274.07,1090.8 1274.07,940.2 1274.52,935.27 1275.42,927.86 1276.71,924.57 1278.22,919.64 1279.73,917.17 1280.86,911.42 1281.62,899.08 1281.62,1043 1282.07,1046.82 1282.98,1052.56 1284.26,1060.69 1285.78,1069.77 1287.29,1078.85 1288.42,1085.07 1289.17,1090.8 1289.17,940.2 1289.63,935.27 1290.53,927.86 1291.82,924.57 1293.33,919.64 1294.84,917.17 1295.97,911.42 1296.73,899.08 1296.73,1019.36 1297.18,1019.4 1298.09,1019.46 1299.37,1019.55 1300.89,1019.64 1302.4,1019.74 1303.53,1019.81 1304.28,1019.87 1304.28,968.47 1304.74,968.35 1305.64,968.16 1306.93,968.08 1308.44,967.96 1309.95,967.89 1311.08,967.75 1311.84,967.44 1311.84,1019.36 1312.29,1019.4 1313.2,1019.46 1314.48,1019.55 1316,1019.64 1317.51,1019.74 1318.64,1019.81 1319.39,1019.87 1319.39,968.47 1319.85,968.35 1320.75,968.16 1322.04,968.08 1323.55,967.96 1325.06,967.89 1326.19,967.75 1326.95,967.44 1326.95,1019.36 1327.4,1019.4 1328.31,1019.46 1329.59,1019.55 1331.11,1019.64 1332.62,1019.74 1333.75,1019.81 1334.51,1019.87 1334.51,968.47 1334.96,968.35 1335.86,968.16 1337.15,968.08 1338.66,967.96 1340.17,967.89 1341.3,967.75 1342.06,967.44 1342.06,1019.36 1342.51,1019.4 1343.42,1019.46 1344.7,1019.55 1346.22,1019.64 1347.73,1019.74 1348.86,1019.81 1349.62,1019.87 1349.62,968.47 1350.07,968.35 1350.97,968.16 1352.26,968.08 1353.77,967.96 1355.28,967.89 1356.41,967.75 1357.17,967.44 1357.17,1019.36 1357.62,1019.4 1358.53,1019.46 1359.81,1019.55 1361.33,1019.64 1362.84,1019.74 1363.97,1019.81 1364.72,1019.87 1364.72,968.47 1365.18,968.35 1366.08,968.16 1367.37,968.08 1368.88,967.96 1370.39,967.89 1371.52,967.75 1372.28,967.44 1372.28,1019.36 1372.73,1019.4 1373.64,1019.46 1374.92,1019.55 1376.44,1019.64 1377.95,1019.74 1379.08,1019.81 1379.84,1019.87 1379.84,968.47 1380.29,968.35 1381.19,968.16 1382.48,968.08 1383.99,967.96 1385.5,967.89 1386.63,967.75 1387.39,967.44 1387.39,1019.36 1387.84,1019.4 1388.75,1019.46 1390.03,1019.55 1391.55,1019.64 1393.06,1019.74 1394.19,1019.81 1394.94,1019.87 1394.94,968.47 1395.4,968.35 1396.3,968.16 1397.59,968.08 1399.1,967.96 1400.61,967.89 1401.74,967.75 1402.5,967.44 1402.5,1019.36 1402.95,1019.4 1403.86,1019.46 1405.14,1019.55 1406.66,1019.64 1408.17,1019.74 1409.3,1019.81 1410.05,1019.87 1410.05,968.47 1410.51,968.35 1411.41,968.16 1412.7,968.08 1414.21,967.96 1415.72,967.89 1416.85,967.75 1417.61,967.44 1417.61,1019.36 1418.06,1019.4 1418.97,1019.46 1420.25,1019.55 1421.77,1019.64 1423.28,1019.74 1424.41,1019.81 1425.16,1019.87 1425.16,968.47 1425.62,968.35 1426.52,968.16 1427.81,968.08 1429.32,967.96 1430.83,967.89 1431.96,967.75 1432.72,967.44 1432.72,1019.36 1433.17,1019.4 1434.08,1019.46 1435.36,1019.55 1436.88,1019.64 1438.39,1019.74 1439.52,1019.81 1440.28,1019.87 1440.28,968.47 1440.73,968.35 1441.63,968.16 1442.92,968.08 1444.43,967.96 1445.94,967.89 1447.07,967.75 1447.83,967.44 1447.83,1019.36 1448.28,1019.4 1449.19,1019.46 1450.47,1019.55 1451.99,1019.64 1453.5,1019.74 1454.63,1019.81 1455.38,1019.87 1455.38,968.47 1455.84,968.35 1456.74,968.16 1458.03,968.08 1459.54,967.96 1461.05,967.89 1462.18,967.75 1462.94,967.44 1462.94,1019.36 1463.39,1019.4 1464.3,1019.46 1465.58,1019.55 1467.1,1019.64 1468.61,1019.74 1469.74,1019.81 1470.49,1019.87 1470.49,968.47 1470.95,968.35 1471.85,968.16 1473.14,968.08 1474.65,967.96 1476.16,967.89 1477.29,967.75 1478.05,967.44" fill="none" stroke="#404040" stroke-width="1.7" stroke-linejoin="round" stroke-linecap="round" stroke-linecap="butt"/>
<polyline points="647,991.6 647,1007.02 647.45,1007.72 648.36,1006.67 649.64,1007.19 651.16,1008.24 652.67,1009.82 653.8,1012.09 654.55,1015.76 654.55,976.18 655.01,975.28 655.91,976.63 657.2,975.95 658.71,974.6 660.22,972.56 661.35,969.62 662.11,964.87 662.11,1007.02 662.56,1007.72 663.47,1006.67 664.75,1007.19 666.27,1008.24 667.78,1009.82 668.91,1012.09 669.66,1015.76 669.66,976.18 670.12,975.28 671.02,976.63 672.31,975.95 673.82,974.6 675.33,972.56 676.46,969.62 677.22,964.87 677.22,1007.02 677.67,1007.72 678.58,1006.67 679.86,1007.19 681.38,1008.24 682.89,1009.82 684.02,1012.09 684.77,1015.76 684.77,976.18 685.23,975.28 686.13,976.63 687.42,975.95 688.93,974.6 690.44,972.56 691.57,969.62 692.33,964.87 692.33,1007.02 692.78,1007.72 693.69,1006.67 694.97,1007.19 696.49,1008.24 698,1009.82 699.13,1012.09 699.88,1015.76 699.88,976.18 700.34,975.28 701.24,976.63 702.53,975.95 704.04,974.6 705.55,972.56 706.68,969.62 707.44,964.87 707.44,1007.02 707.89,1007.72 708.8,1006.67 710.08,1007.19 711.6,1008.24 713.11,1009.82 714.24,1012.09 715,1015.76 715,976.18 715.45,975.28 716.35,976.63 717.64,975.95 719.15,974.6 720.66,972.56 721.79,969.62 722.55,964.87 722.55,1013.7 723,1014.56 723.91,1013.27 725.19,1013.92 726.71,1015.2 728.22,1017.13 729.35,1019.91 730.11,1024.41 730.11,972.07 730.56,971.04 731.46,972.58 732.75,971.81 734.26,970.27 735.77,967.96 736.9,964.62 737.66,959.22 737.66,1013.7 738.11,1014.28 739.02,1013.41 740.3,1013.85 741.82,1014.71 743.33,1016 744.46,1017.88 745.22,1020.9 745.22,972.07 745.67,971.04 746.57,972.58 747.86,971.81 749.37,970.27 750.88,967.96 752.01,964.62 752.77,959.22 752.77,1013.7 753.22,1014.28 754.13,1013.41 755.41,1013.85 756.93,1014.71 758.44,1016 759.57,1017.88 760.33,1020.9 760.33,972.07 760.78,971.04 761.68,972.58 762.97,971.81 764.48,970.27 765.99,967.96 767.12,964.62 767.88,959.22 767.88,1013.7 768.33,1014.28 769.24,1013.41 770.52,1013.85 772.04,1014.71 773.55,1016 774.68,1017.88 775.43,1020.9 775.43,972.07 775.89,971.04 776.79,972.58 778.08,971.81 779.59,970.27 781.1,967.96 782.23,964.62 782.99,959.22 782.99,1013.7 783.44,1014.28 784.35,1013.41 785.63,1013.85 787.15,1014.71 788.66,1016 789.79,1017.88 790.54,1020.9 790.54,972.07 791,971.04 791.9,972.58 793.19,971.81 794.7,970.27 796.21,967.96 797.34,964.62 798.1,959.22 798.1,1014.73 798.55,1015.83 799.46,1014.18 800.74,1015 802.26,1016.65 803.77,1019.12 804.9,1022.68 805.65,1028.44 805.65,970.53 806.11,969.5 807.01,971.04 808.3,970.27 809.81,968.73 811.32,966.41 812.45,963.07 813.21,957.68 813.21,1014.73 813.66,1015.51 814.57,1014.34 815.85,1014.93 817.37,1016.1 818.88,1017.86 820.01,1020.39 820.76,1024.5 820.76,970.53 821.22,969.5 822.12,971.04 823.41,970.27 824.92,968.73 826.43,966.41 827.56,963.07 828.32,957.68 828.32,1014.73 828.77,1015.51 829.68,1014.34 830.96,1014.93 832.48,1016.1 833.99,1017.86 835.12,1020.39 835.88,1024.5 835.88,970.53 836.33,969.5 837.23,971.04 838.52,970.27 840.03,968.73 841.54,966.41 842.67,963.07 843.43,957.68 843.43,1014.73 843.88,1015.51 844.79,1014.34 846.07,1014.93 847.59,1016.1 849.1,1017.86 850.23,1020.39 850.99,1024.5 850.99,970.53 851.44,969.5 852.34,971.04 853.63,970.27 855.14,968.73 856.65,966.41 857.78,963.07 858.54,957.68 858.54,1014.73 858.99,1015.51 859.9,1014.34 861.18,1014.93 862.7,1016.1 864.21,1017.86 865.34,1020.39 866.1,1024.5 866.1,970.53 866.55,969.5 867.45,971.04 868.74,970.27 870.25,968.73 871.76,966.41 872.89,963.07 873.65,957.68 873.65,1018.84 874.1,1019.98 875.01,1018.27 876.29,1019.13 877.81,1020.83 879.32,1023.39 880.45,1027.08 881.2,1033.05 881.2,967.96 881.66,967.13 882.56,968.37 883.85,967.75 885.36,966.52 886.87,964.67 888,961.99 888.76,957.68 888.76,1018.84 889.21,1019.62 890.12,1018.45 891.4,1019.04 892.92,1020.21 894.43,1021.97 895.56,1024.51 896.32,1028.61 896.32,967.96 896.77,967.13 897.67,968.37 898.96,967.75 900.47,966.52 901.98,964.67 903.11,961.99 903.87,957.68 903.87,1018.84 904.32,1019.62 905.23,1018.45 906.51,1019.04 908.03,1020.21 909.54,1021.97 910.67,1024.51 911.42,1028.61 911.42,967.96 911.88,967.13 912.78,968.37 914.07,967.75 915.58,966.52 917.09,964.67 918.22,961.99 918.98,957.68 918.98,1018.84 919.43,1019.62 920.34,1018.45 921.62,1019.04 923.14,1020.21 924.65,1021.97 925.78,1024.51 926.53,1028.61 926.53,967.96 926.99,967.13 927.89,968.37 929.18,967.75 930.69,966.52 932.2,964.67 933.33,961.99 934.09,957.68 934.09,1018.84 934.54,1019.62 935.45,1018.45 936.73,1019.04 938.25,1020.21 939.76,1021.97 940.89,1024.51 941.64,1028.61 941.64,967.96 942.1,967.13 943,968.37 944.29,967.75 945.8,966.52 947.31,964.67 948.44,961.99 949.2,957.68 949.2,1020.38 949.65,1021.77 950.56,1019.69 951.84,1020.73 953.36,1022.8 954.87,1025.91 956,1030.4 956.75,1037.65 956.75,965.39 957.21,964.69 958.11,965.74 959.4,965.21 960.91,964.16 962.42,962.59 963.55,960.32 964.31,956.65 964.31,1020.38 964.76,1021.37 965.67,1019.89 966.95,1020.63 968.47,1022.11 969.98,1024.33 971.11,1027.54 971.87,1032.72 971.87,965.39 972.32,964.69 973.22,965.74 974.51,965.21 976.02,964.16 977.53,962.59 978.66,960.32 979.42,956.65 979.42,1020.38 979.87,1021.37 980.78,1019.89 982.06,1020.63 983.58,1022.11 985.09,1024.33 986.22,1027.54 986.97,1032.72 986.97,965.39 987.43,964.69 988.33,965.74 989.62,965.21 991.13,964.16 992.64,962.59 993.77,960.32 994.53,956.65 994.53,1020.38 994.98,1021.37 995.89,1019.89 997.17,1020.63 998.69,1022.11 1000.2,1024.33 1001.33,1027.54 1002.09,1032.72 1002.09,965.39 1002.54,964.69 1003.44,965.74 1004.73,965.21 1006.24,964.16 1007.75,962.59 1008.88,960.32 1009.64,956.65 1009.64,1020.38 1010.09,1021.37 1011,1019.89 1012.28,1020.63 1013.8,1022.11 1015.31,1024.33 1016.44,1027.54 1017.19,1032.72 1017.19,965.39 1017.65,964.69 1018.55,965.74 1019.84,965.21 1021.35,964.16 1022.86,962.59 1023.99,960.32 1024.75,956.65 1024.75,1026.55 1025.2,1028.04 1026.11,1025.81 1027.39,1026.92 1028.91,1029.15 1030.42,1032.5 1031.55,1037.33 1032.31,1045.14 1032.31,961.27 1032.76,960.16 1033.66,961.83 1034.95,961 1036.46,959.33 1037.97,956.83 1039.1,953.22 1039.86,947.4 1039.86,1026.55 1040.31,1027.58 1041.22,1026.04 1042.5,1026.81 1044.02,1028.35 1045.53,1030.66 1046.66,1034.01 1047.41,1039.4 1047.41,961.27 1047.87,960.16 1048.77,961.83 1050.06,961 1051.57,959.33 1053.08,956.83 1054.21,953.22 1054.97,947.4 1054.97,1026.55 1055.42,1027.58 1056.33,1026.04 1057.61,1026.81 1059.13,1028.35 1060.64,1030.66 1061.77,1034.01 1062.53,1039.4 1062.53,961.27 1062.98,960.16 1063.88,961.83 1065.17,961 1066.68,959.33 1068.19,956.83 1069.32,953.22 1070.08,947.4 1070.08,1026.55 1070.53,1027.58 1071.44,1026.04 1072.72,1026.81 1074.24,1028.35 1075.75,1030.66 1076.88,1034.01 1077.63,1039.4 1077.63,961.27 1078.09,960.16 1078.99,961.83 1080.28,961 1081.79,959.33 1083.3,956.83 1084.43,953.22 1085.19,947.4 1085.19,1026.55 1085.64,1027.58 1086.55,1026.04 1087.83,1026.81 1089.35,1028.35 1090.86,1030.66 1091.99,1034.01 1092.74,1039.4 1092.74,961.27 1093.2,960.16 1094.1,961.83 1095.39,961 1096.9,959.33 1098.41,956.83 1099.54,953.22 1100.3,947.4 1100.3,1030.15 1100.75,1031.86 1101.66,1029.3 1102.94,1030.58 1104.46,1033.13 1105.97,1036.97 1107.1,1042.52 1107.86,1051.47 1107.86,955.62 1108.31,954.22 1109.21,956.32 1110.5,955.27 1112.01,953.17 1113.52,950.03 1114.65,945.48 1115.41,938.14 1115.41,1030.15 1115.86,1031.34 1116.77,1029.55 1118.05,1030.45 1119.57,1032.24 1121.08,1034.92 1122.21,1038.8 1122.96,1045.06 1122.96,955.62 1123.42,954.22 1124.32,956.32 1125.61,955.27 1127.12,953.17 1128.63,950.03 1129.76,945.48 1130.52,938.14 1130.52,1030.15 1130.97,1031.34 1131.88,1029.55 1133.16,1030.45 1134.68,1032.24 1136.19,1034.92 1137.32,1038.8 1138.08,1045.06 1138.08,955.62 1138.53,954.22 1139.43,956.32 1140.72,955.27 1142.23,953.17 1143.74,950.03 1144.87,945.48 1145.63,938.14 1145.63,1030.15 1146.08,1031.34 1146.99,1029.55 1148.27,1030.45 1149.79,1032.24 1151.3,1034.92 1152.43,1038.8 1153.18,1045.06 1153.18,955.62 1153.64,954.22 1154.54,956.32 1155.83,955.27 1157.34,953.17 1158.85,950.03 1159.98,945.48 1160.74,938.14 1160.74,1030.15 1161.19,1031.34 1162.1,1029.55 1163.38,1030.45 1164.9,1032.24 1166.41,1034.92 1167.54,1038.8 1168.3,1045.06 1168.3,955.62 1168.75,954.22 1169.65,956.32 1170.94,955.27 1172.45,953.17 1173.96,950.03 1175.09,945.48 1175.85,938.14 1175.85,1035.8 1176.3,1037.53 1177.21,1034.94 1178.49,1036.24 1180.01,1038.83 1181.52,1042.71 1182.65,1048.33 1183.4,1057.39 1183.4,948.42 1183.86,946.53 1184.76,949.37 1186.05,947.95 1187.56,945.11 1189.07,940.86 1190.2,934.71 1190.96,924.78 1190.96,1035.8 1191.41,1037.53 1192.32,1034.94 1193.6,1036.24 1195.12,1038.83 1196.63,1042.71 1197.76,1048.33 1198.51,1057.39 1198.51,948.42 1198.97,946.53 1199.87,949.37 1201.16,947.95 1202.67,945.11 1204.18,940.86 1205.31,934.71 1206.07,924.78 1206.07,1035.8 1206.52,1037.53 1207.43,1034.94 1208.71,1036.24 1210.23,1038.83 1211.74,1042.71 1212.87,1048.33 1213.62,1057.39 1213.62,948.42 1214.08,946.53 1214.98,949.37 1216.27,947.95 1217.78,945.11 1219.29,940.86 1220.42,934.71 1221.18,924.78 1221.18,1035.8 1221.63,1037.53 1222.54,1034.94 1223.82,1036.24 1225.34,1038.83 1226.85,1042.71 1227.98,1048.33 1228.74,1057.39 1228.74,948.42 1229.19,946.53 1230.09,949.37 1231.38,947.95 1232.89,945.11 1234.4,940.86 1235.53,934.71 1236.29,924.78 1236.29,1035.8 1236.74,1037.53 1237.65,1034.94 1238.93,1036.24 1240.45,1038.83 1241.96,1042.71 1243.09,1048.33 1243.85,1057.39 1243.85,948.42 1244.3,946.53 1245.2,949.37 1246.49,947.95 1248,945.11 1249.51,940.86 1250.64,934.71 1251.4,924.78 1251.4,1043 1251.85,1045.63 1252.76,1041.68 1254.04,1043.66 1255.56,1047.61 1257.07,1053.53 1258.2,1062.08 1258.95,1075.9 1258.95,940.2 1259.41,937.86 1260.31,941.37 1261.6,939.61 1263.11,936.1 1264.62,930.82 1265.75,923.21 1266.51,910.9 1266.51,1043 1266.96,1045.63 1267.87,1041.68 1269.15,1043.66 1270.67,1047.61 1272.18,1053.53 1273.31,1062.08 1274.07,1075.9 1274.07,940.2 1274.52,937.86 1275.42,941.37 1276.71,939.61 1278.22,936.1 1279.73,930.82 1280.86,923.21 1281.62,910.9 1281.62,1043 1282.07,1045.63 1282.98,1041.68 1284.26,1043.66 1285.78,1047.61 1287.29,1053.53 1288.42,1062.08 1289.17,1075.9 1289.17,940.2 1289.63,937.86 1290.53,941.37 1291.82,939.61 1293.33,936.1 1294.84,930.82 1295.97,923.21 1296.73,910.9 1296.73,1043 1297.18,1045.63 1298.09,1041.68 1299.37,1043.66 1300.89,1047.61 1302.4,1053.53 1303.53,1062.08 1304.28,1075.9 1304.28,940.2 1304.74,937.86 1305.64,941.37 1306.93,939.61 1308.44,936.1 1309.95,930.82 1311.08,923.21 1311.84,910.9 1311.84,1043 1312.29,1045.63 1313.2,1041.68 1314.48,1043.66 1316,1047.61 1317.51,1053.53 1318.64,1062.08 1319.39,1075.9 1319.39,940.2 1319.85,937.86 1320.75,941.37 1322.04,939.61 1323.55,936.1 1325.06,930.82 1326.19,923.21 1326.95,910.9 1326.95,1050.71 1327.4,1054.21 1328.31,1048.96 1329.59,1051.58 1331.11,1056.83 1332.62,1064.69 1333.75,1076.05 1334.51,1094.4 1334.51,932.49 1334.96,929.69 1335.86,933.89 1337.15,931.79 1338.66,927.6 1340.17,921.31 1341.3,912.22 1342.06,897.54 1342.06,1050.71 1342.51,1054.21 1343.42,1048.96 1344.7,1051.58 1346.22,1056.83 1347.73,1064.69 1348.86,1076.05 1349.62,1094.4 1349.62,932.49 1350.07,929.69 1350.97,933.89 1352.26,931.79 1353.77,927.6 1355.28,921.31 1356.41,912.22 1357.17,897.54 1357.17,1050.71 1357.62,1054.21 1358.53,1048.96 1359.81,1051.58 1361.33,1056.83 1362.84,1064.69 1363.97,1076.05 1364.72,1094.4 1364.72,932.49 1365.18,929.69 1366.08,933.89 1367.37,931.79 1368.88,927.6 1370.39,921.31 1371.52,912.22 1372.28,897.54 1372.28,1050.71 1372.73,1054.21 1373.64,1048.96 1374.92,1051.58 1376.44,1056.83 1377.95,1064.69 1379.08,1076.05 1379.84,1094.4 1379.84,932.49 1380.29,929.69 1381.19,933.89 1382.48,931.79 1383.99,927.6 1385.5,921.31 1386.63,912.22 1387.39,897.54 1387.39,1050.71 1387.84,1054.21 1388.75,1048.96 1390.03,1051.58 1391.55,1056.83 1393.06,1064.69 1394.19,1076.05 1394.94,1094.4 1394.94,932.49 1395.4,929.69 1396.3,933.89 1397.59,931.79 1399.1,927.6 1400.61,921.31 1401.74,912.22 1402.5,897.54 1402.5,1057.39 1402.95,1062.7 1403.86,1054.74 1405.14,1058.72 1406.66,1066.67 1408.17,1078.61 1409.3,1095.85 1410.05,1123.7 1410.05,925.29 1410.51,921.76 1411.41,927.06 1412.7,924.41 1414.21,919.11 1415.72,911.15 1416.85,899.66 1417.61,881.09 1417.61,1057.39 1418.06,1062.7 1418.97,1054.74 1420.25,1058.72 1421.77,1066.67 1423.28,1078.61 1424.41,1095.85 1425.16,1123.7 1425.16,925.29 1425.62,921.76 1426.52,927.06 1427.81,924.41 1429.32,919.11 1430.83,911.15 1431.96,899.66 1432.72,881.09 1432.72,1057.39 1433.17,1062.7 1434.08,1054.74 1435.36,1058.72 1436.88,1066.67 1438.39,1078.61 1439.52,1095.85 1440.28,1123.7 1440.28,925.29 1440.73,921.76 1441.63,927.06 1442.92,924.41 1444.43,919.11 1445.94,911.15 1447.07,899.66 1447.83,881.09 1447.83,1057.39 1448.28,1062.7 1449.19,1054.74 1450.47,1058.72 1451.99,1066.67 1453.5,1078.61 1454.63,1095.85 1455.38,1123.7 1455.38,925.29 1455.84,921.76 1456.74,927.06 1458.03,924.41 1459.54,919.11 1461.05,911.15 1462.18,899.66 1462.94,881.09 1462.94,1057.39 1463.39,1062.7 1464.3,1054.74 1465.58,1058.72 1467.1,1066.67 1468.61,1078.61 1469.74,1095.85 1470.49,1123.7 1470.49,925.29 1470.95,921.76 1471.85,927.06 1473.14,924.41 1474.65,919.11 1476.16,911.15 1477.29,899.66 1478.05,881.09 1478.05,1050.71" fill="none" stroke="#4a8fd8" stroke-width="1.8" stroke-linejoin="round" stroke-linecap="round" stroke-linecap="butt"/>
<line x1="722.55" y1="837.2" x2="722.55" y2="1145.7" stroke="#000" stroke-width="1.5" stroke-dasharray="3 2.7"/>
<line x1="798.1" y1="837.2" x2="798.1" y2="1145.7" stroke="#000" stroke-width="1.5" stroke-dasharray="3 2.7"/>
<line x1="873.65" y1="837.2" x2="873.65" y2="1145.7" stroke="#000" stroke-width="1.5" stroke-dasharray="3 2.7"/>
<line x1="949.2" y1="837.2" x2="949.2" y2="1145.7" stroke="#000" stroke-width="1.5" stroke-dasharray="3 2.7"/>
<line x1="1024.75" y1="837.2" x2="1024.75" y2="1145.7" stroke="#000" stroke-width="1.5" stroke-dasharray="3 2.7"/>
<line x1="1100.3" y1="837.2" x2="1100.3" y2="1145.7" stroke="#000" stroke-width="1.5" stroke-dasharray="3 2.7"/>
<line x1="1175.85" y1="837.2" x2="1175.85" y2="1145.7" stroke="#000" stroke-width="1.5" stroke-dasharray="3 2.7"/>
<line x1="1251.4" y1="837.2" x2="1251.4" y2="1145.7" stroke="#000" stroke-width="1.5" stroke-dasharray="3 2.7"/>
<line x1="1326.95" y1="837.2" x2="1326.95" y2="1145.7" stroke="#000" stroke-width="1.5" stroke-dasharray="3 2.7"/>
<line x1="1402.5" y1="837.2" x2="1402.5" y2="1145.7" stroke="#000" stroke-width="1.5" stroke-dasharray="3 2.7"/>
<line x1="647" y1="1145.7" x2="647" y2="1140.7" stroke="#000" stroke-width="2"/>
<line x1="722.55" y1="1145.7" x2="722.55" y2="1140.7" stroke="#000" stroke-width="2"/>
<line x1="798.1" y1="1145.7" x2="798.1" y2="1140.7" stroke="#000" stroke-width="2"/>
<line x1="873.65" y1="1145.7" x2="873.65" y2="1140.7" stroke="#000" stroke-width="2"/>
<line x1="949.2" y1="1145.7" x2="949.2" y2="1140.7" stroke="#000" stroke-width="2"/>
<line x1="1024.75" y1="1145.7" x2="1024.75" y2="1140.7" stroke="#000" stroke-width="2"/>
<line x1="1100.3" y1="1145.7" x2="1100.3" y2="1140.7" stroke="#000" stroke-width="2"/>
<line x1="1175.85" y1="1145.7" x2="1175.85" y2="1140.7" stroke="#000" stroke-width="2"/>
<line x1="1251.4" y1="1145.7" x2="1251.4" y2="1140.7" stroke="#000" stroke-width="2"/>
<line x1="1326.95" y1="1145.7" x2="1326.95" y2="1140.7" stroke="#000" stroke-width="2"/>
<line x1="1402.5" y1="1145.7" x2="1402.5" y2="1140.7" stroke="#000" stroke-width="2"/>
<line x1="1478.05" y1="1145.7" x2="1478.05" y2="1140.7" stroke="#000" stroke-width="2"/>
<line x1="684.77" y1="1145.7" x2="684.77" y2="1140.7" stroke="#000" stroke-width="2"/>
<line x1="760.33" y1="1145.7" x2="760.33" y2="1140.7" stroke="#000" stroke-width="2"/>
<line x1="835.88" y1="1145.7" x2="835.88" y2="1140.7" stroke="#000" stroke-width="2"/>
<line x1="911.42" y1="1145.7" x2="911.42" y2="1140.7" stroke="#000" stroke-width="2"/>
<line x1="986.97" y1="1145.7" x2="986.97" y2="1140.7" stroke="#000" stroke-width="2"/>
<line x1="1062.53" y1="1145.7" x2="1062.53" y2="1140.7" stroke="#000" stroke-width="2"/>
<line x1="1138.08" y1="1145.7" x2="1138.08" y2="1140.7" stroke="#000" stroke-width="2"/>
<line x1="1213.62" y1="1145.7" x2="1213.62" y2="1140.7" stroke="#000" stroke-width="2"/>
<line x1="1289.17" y1="1145.7" x2="1289.17" y2="1140.7" stroke="#000" stroke-width="2"/>
<line x1="1364.72" y1="1145.7" x2="1364.72" y2="1140.7" stroke="#000" stroke-width="2"/>
<line x1="1440.28" y1="1145.7" x2="1440.28" y2="1140.7" stroke="#000" stroke-width="2"/>
<line x1="647" y1="1145.8" x2="652" y2="1145.8" stroke="#000" stroke-width="2"/>
<line x1="647" y1="1094.4" x2="652" y2="1094.4" stroke="#000" stroke-width="2"/>
<line x1="647" y1="1043" x2="652" y2="1043" stroke="#000" stroke-width="2"/>
<line x1="647" y1="991.6" x2="652" y2="991.6" stroke="#000" stroke-width="2"/>
<line x1="647" y1="940.2" x2="652" y2="940.2" stroke="#000" stroke-width="2"/>
<line x1="647" y1="888.8" x2="652" y2="888.8" stroke="#000" stroke-width="2"/>
<line x1="647" y1="837.4" x2="652" y2="837.4" stroke="#000" stroke-width="2"/>
<line x1="647" y1="1120.1" x2="649.5" y2="1120.1" stroke="#000" stroke-width="2"/>
<line x1="647" y1="1068.7" x2="649.5" y2="1068.7" stroke="#000" stroke-width="2"/>
<line x1="647" y1="1017.3" x2="649.5" y2="1017.3" stroke="#000" stroke-width="2"/>
<line x1="647" y1="965.9" x2="649.5" y2="965.9" stroke="#000" stroke-width="2"/>
<line x1="647" y1="914.5" x2="649.5" y2="914.5" stroke="#000" stroke-width="2"/>
<line x1="647" y1="863.1" x2="649.5" y2="863.1" stroke="#000" stroke-width="2"/>
<text transform="translate(647,1175.3) scale(1,1.05)" font-size="31" text-anchor="middle" fill="#000">0</text>
<text transform="translate(722.55,1175.3) scale(1,1.05)" font-size="31" text-anchor="middle" fill="#000">10</text>
<text transform="translate(798.1,1175.3) scale(1,1.05)" font-size="31" text-anchor="middle" fill="#000">20</text>
<text transform="translate(873.65,1175.3) scale(1,1.05)" font-size="31" text-anchor="middle" fill="#000">30</text>
<text transform="translate(949.2,1175.3) scale(1,1.05)" font-size="31" text-anchor="middle" fill="#000">40</text>
<text transform="translate(1024.75,1175.3) scale(1,1.05)" font-size="31" text-anchor="middle" fill="#000">50</text>
<text transform="translate(1100.3,1175.3) scale(1,1.05)" font-size="31" text-anchor="middle" fill="#000">60</text>
<text transform="translate(1175.85,1175.3) scale(1,1.05)" font-size="31" text-anchor="middle" fill="#000">70</text>
<text transform="translate(1251.4,1175.3) scale(1,1.05)" font-size="31" text-anchor="middle" fill="#000">80</text>
<text transform="translate(1326.95,1175.3) scale(1,1.05)" font-size="31" text-anchor="middle" fill="#000">90</text>
<text transform="translate(1402.5,1175.3) scale(1,1.05)" font-size="31" text-anchor="middle" fill="#000">100</text>
<text transform="translate(1478.05,1175.3) scale(1,1.05)" font-size="31" text-anchor="middle" fill="#000">110</text>
<text transform="translate(615.5,849.4) scale(1,1.05)" font-size="30.5" text-anchor="middle" fill="#000">0.3</text>
<text transform="translate(615.5,899.3) scale(1,1.05)" font-size="30.5" text-anchor="middle" fill="#000">0.2</text>
<text transform="translate(615.5,953.6) scale(1,1.05)" font-size="30.5" text-anchor="middle" fill="#000">0.1</text>
<text transform="translate(615.5,1005.4) scale(1,1.05)" font-size="30.5" text-anchor="middle" fill="#000">0.0</text>
<text transform="translate(615.5,1054.1) scale(1,1.05)" font-size="30.5" text-anchor="middle" fill="#000">-0.1</text>
<text transform="translate(614,1106.1) scale(1,1.05)" font-size="30.5" text-anchor="middle" fill="#000">-0.2</text>
<text transform="translate(615.5,1156) scale(1,1.05)" font-size="30.5" text-anchor="middle" fill="#000">-0.3</text>
<text transform="translate(996.5,1216) scale(1,1.05)" font-size="31.8" fill="#000">Time (h)</text>
<text transform="translate(564.8,1082.5) rotate(-90) scale(1,1.05)" font-size="30.9" fill="#000">Voltage (V)</text>
<line x1="694.1" y1="851.5" x2="729.9" y2="851.5" stroke="#404040" stroke-width="1.5"/>
<line x1="694.1" y1="883.1" x2="729.9" y2="883.1" stroke="#4a8fd8" stroke-width="1.6"/>
<text transform="translate(735.2,862.6) scale(1,1.05)" font-size="25.3" fill="#000">ZnF<tspan font-size="14" dy="8.6">2</tspan><tspan dy="-8.6">-Zn</tspan><tspan font-size="14" dy="8.6">3</tspan><tspan dy="-8.6">(PO</tspan><tspan font-size="14" dy="8.6">4</tspan><tspan dy="-8.6">)</tspan><tspan font-size="14" dy="8.6">2</tspan><tspan dy="-8.6">@Zn (25 °C)</tspan></text>
<text transform="translate(735.2,890.6) scale(1,1.05)" font-size="25.3" fill="#000">ZnF<tspan font-size="14" dy="8.6">2</tspan><tspan dy="-8.6">-Zn</tspan><tspan font-size="14" dy="8.6">3</tspan><tspan dy="-8.6">(PO</tspan><tspan font-size="14" dy="8.6">4</tspan><tspan dy="-8.6">)</tspan><tspan font-size="14" dy="8.6">2</tspan><tspan dy="-8.6">@Zn (-30 °C)</tspan></text>
<text transform="translate(730.8,1117.2) scale(1,1.05)" font-size="28.5" fill="#000">25 °C</text>
<text transform="translate(650.5,935.8) scale(1,1.05)" font-size="15.6" font-weight="bold" fill="#000">1 mA cm<tspan font-size="10" dy="-6.5" dx="0.5">-2</tspan></text>
<text transform="translate(650.5,952.7) scale(1,1.05)" font-size="15.6" font-weight="bold" fill="#000">1 mAh cm<tspan font-size="10" dy="-6.5" dx="0.5">-2</tspan></text>
<text transform="translate(722.6,1050.3) scale(1,1.05)" font-size="15.6" font-weight="bold" fill="#000">2 mA cm<tspan font-size="10" dy="-6.5" dx="0.5">-2</tspan></text>
<text transform="translate(722.6,1068.1) scale(1,1.05)" font-size="15.6" font-weight="bold" fill="#000">2 mAh cm<tspan font-size="10" dy="-6.5" dx="0.5">-2</tspan></text>
<text transform="translate(798.4,935.8) scale(1,1.05)" font-size="15.6" font-weight="bold" fill="#000">3 mA cm<tspan font-size="10" dy="-6.5" dx="0.5">-2</tspan></text>
<text transform="translate(798.4,952.9) scale(1,1.05)" font-size="15.6" font-weight="bold" fill="#000">3 mAh cm<tspan font-size="10" dy="-6.5" dx="0.5">-2</tspan></text>
<text transform="translate(874.1,1053.9) scale(1,1.05)" font-size="15.6" font-weight="bold" fill="#000">4 mA cm<tspan font-size="10" dy="-6.5" dx="0.5">-2</tspan></text>
<text transform="translate(874.1,1070.9) scale(1,1.05)" font-size="15.6" font-weight="bold" fill="#000">4 mAh cm<tspan font-size="10" dy="-6.5" dx="0.5">-2</tspan></text>
<text transform="translate(950.6,920.9) scale(1,1.05)" font-size="15.6" font-weight="bold" fill="#000">5 mA cm<tspan font-size="10" dy="-6.5" dx="0.5">-2</tspan></text>
<text transform="translate(950.6,938.6) scale(1,1.05)" font-size="15.6" font-weight="bold" fill="#000">5 mAh cm<tspan font-size="10" dy="-6.5" dx="0.5">-2</tspan></text>
<text transform="translate(1026.9,1069.2) scale(1,1.05)" font-size="15.6" font-weight="bold" fill="#000">8 mA cm<tspan font-size="10" dy="-6.5" dx="0.5">-2</tspan></text>
<text transform="translate(1026.9,1086.2) scale(1,1.05)" font-size="15.6" font-weight="bold" fill="#000">8 mAh cm<tspan font-size="10" dy="-6.5" dx="0.5">-2</tspan></text>
<text transform="translate(1100.6,900.2) scale(1,1.05)" font-size="15.6" font-weight="bold" fill="#000">10 mA cm<tspan font-size="10" dy="-6.5" dx="0.5">-2</tspan></text>
<text transform="translate(1100.6,917.3) scale(1,1.05)" font-size="15.6" font-weight="bold" fill="#000">10 mAh cm<tspan font-size="10" dy="-6.5" dx="0.5">-2</tspan></text>
<text transform="translate(1175.9,1105.8) scale(1,1.05)" font-size="15.6" font-weight="bold" fill="#000">15 mA cm<tspan font-size="10" dy="-6.5" dx="0.5">-2</tspan></text>
<text transform="translate(1175.9,1122.5) scale(1,1.05)" font-size="15.6" font-weight="bold" fill="#000">15 mAh cm<tspan font-size="10" dy="-6.5" dx="0.5">-2</tspan></text>
<text transform="translate(1252.4,873.6) scale(1,1.05)" font-size="15.6" font-weight="bold" fill="#000">20 mA cm<tspan font-size="10" dy="-6.5" dx="0.5">-2</tspan></text>
<text transform="translate(1252.4,890.3) scale(1,1.05)" font-size="15.6" font-weight="bold" fill="#000">20 mAh cm<tspan font-size="10" dy="-6.5" dx="0.5">-2</tspan></text>
<text transform="translate(1329.9,1110) scale(1,1.05)" font-size="15.6" font-weight="bold" fill="#000">25 mA cm<tspan font-size="10" dy="-6.5" dx="0.5">-2</tspan></text>
<text transform="translate(1329.9,1127.8) scale(1,1.05)" font-size="15.6" font-weight="bold" fill="#000">25 mAh cm<tspan font-size="10" dy="-6.5" dx="0.5">-2</tspan></text>
<text transform="translate(1384,857.6) scale(1,1.05)" font-size="15.6" font-weight="bold" fill="#000">30 mA cm<tspan font-size="10" dy="-6.5" dx="0.5">-2</tspan></text>
<text transform="translate(1384,874.6) scale(1,1.05)" font-size="15.6" font-weight="bold" fill="#000">30 mAh cm<tspan font-size="10" dy="-6.5" dx="0.5">-2</tspan></text>
<text transform="translate(531,843.3) scale(1,1.05)" font-size="53" fill="#000">g</text>
<radialGradient id="gloww"><stop offset="0" stop-color="#fff" stop-opacity="1"/><stop offset="1" stop-color="#fff" stop-opacity="0"/></radialGradient>
<radialGradient id="glowk"><stop offset="0" stop-color="#000" stop-opacity="1"/><stop offset="1" stop-color="#000" stop-opacity="0"/></radialGradient>
<filter id="sem1" x="0" y="0" width="1" height="1" color-interpolation-filters="sRGB"><feTurbulence type="fractalNoise" baseFrequency="0.01" numOctaves="4" seed="7" result="n1"/><feTurbulence type="fractalNoise" baseFrequency="0.15" numOctaves="2" seed="12" result="n2"/><feComposite in="n1" in2="n2" operator="arithmetic" k1="0" k2="0.8" k3="0.2" k4="0" result="n"/><feColorMatrix in="n" type="matrix" values="0.27 0 0 0 0.176  0.27 0 0 0 0.176  0.27 0 0 0 0.176  0 0 0 0 1"/></filter>
<rect x="1063" y="36" width="422.2" height="323.7" fill="#555" filter="url(#sem1)"/>
<clipPath id="semclip1"><rect x="1063" y="36" width="422.2" height="323.7"/></clipPath>
<g clip-path="url(#semclip1)">
<ellipse cx="1092" cy="238" rx="45" ry="34" fill="url(#gloww)" opacity="0.13"/>
<ellipse cx="1160" cy="185" rx="40" ry="30" fill="url(#gloww)" opacity="0.07"/>
<ellipse cx="1454" cy="185" rx="32" ry="34" fill="url(#gloww)" opacity="0.12"/>
<ellipse cx="1392" cy="226" rx="30" ry="24" fill="url(#gloww)" opacity="0.13"/>
<ellipse cx="1311" cy="338" rx="36" ry="30" fill="url(#gloww)" opacity="0.11"/>
<ellipse cx="1397" cy="273" rx="32" ry="22" fill="url(#gloww)" opacity="0.09"/>
<ellipse cx="1400" cy="120" rx="55" ry="30" fill="url(#gloww)" opacity="0.07"/>
<ellipse cx="1180" cy="330" rx="40" ry="28" fill="url(#gloww)" opacity="0.07"/>
<ellipse cx="1355" cy="250" rx="55" ry="38" fill="url(#glowk)" opacity="0.12"/>
<ellipse cx="1247" cy="220" rx="24" ry="18" fill="url(#glowk)" opacity="0.12"/>
<ellipse cx="1103" cy="199" rx="10" ry="8" fill="url(#glowk)" opacity="0.2"/>
<ellipse cx="1100" cy="70" rx="40" ry="25" fill="url(#glowk)" opacity="0.05"/>
</g>
<text transform="translate(1070.5,105) scale(1,1.05)" font-size="32.3" fill="#fff">ZnF<tspan font-size="18" dy="10">2</tspan><tspan dy="-10">-Zn</tspan><tspan font-size="18" dy="10">3</tspan><tspan dy="-10">(PO</tspan><tspan font-size="18" dy="10">4</tspan><tspan dy="-10">)</tspan><tspan font-size="18" dy="10">2</tspan><tspan dy="-10">@Zn (-30 °C)</tspan></text>
<rect x="1083" y="328.5" width="118" height="15.2" fill="#e3e3e3"/>
<text transform="translate(1089.7,315.8) scale(1,1.05)" font-size="49" fill="#fff">5 µm</text>
<text transform="translate(1024.7,48) scale(1,1.05)" font-size="53" fill="#000">d</text>
<filter id="sem2" x="0" y="0" width="1" height="1" color-interpolation-filters="sRGB"><feTurbulence type="fractalNoise" baseFrequency="0.04" numOctaves="5" seed="11" result="n1"/><feTurbulence type="fractalNoise" baseFrequency="0.12" numOctaves="2" seed="16" result="n2"/><feComposite in="n1" in2="n2" operator="arithmetic" k1="0" k2="0.55" k3="0.45" k4="0" result="n"/><feColorMatrix in="n" type="matrix" values="0.35 0 0 0 0.146  0.35 0 0 0 0.146  0.35 0 0 0 0.146  0 0 0 0 1"/></filter>
<rect x="1063" y="431.9" width="421.3" height="326.8" fill="#555" filter="url(#sem2)"/>
<clipPath id="semclip2"><rect x="1063" y="431.9" width="421.3" height="326.8"/></clipPath>
<g clip-path="url(#semclip2)">
<ellipse cx="1120" cy="560" rx="40" ry="30" fill="url(#gloww)" opacity="0.1"/>
<ellipse cx="1300" cy="600" rx="60" ry="40" fill="url(#gloww)" opacity="0.08"/>
<ellipse cx="1430" cy="620" rx="30" ry="30" fill="url(#gloww)" opacity="0.1"/>
<ellipse cx="1200" cy="700" rx="40" ry="25" fill="url(#glowk)" opacity="0.1"/>
<ellipse cx="1350" cy="470" rx="50" ry="30" fill="url(#glowk)" opacity="0.08"/>
<ellipse cx="1470" cy="600" rx="8" ry="12" fill="url(#gloww)" opacity="0.5"/>
<filter id="fibblur" x="-5%" y="-5%" width="110%" height="110%"><feGaussianBlur stdDeviation="0.7"/></filter>
<g filter="url(#fibblur)">
<path d="M1332.39,440.07 Q1337.17,449.68 1347.44,452.78" stroke="#fff" stroke-width="1.1" fill="none" opacity="0.11"/>
<path d="M1438.88,460.31 Q1451.2,456.38 1462.58,462.54" stroke="#fff" stroke-width="1.1" fill="none" opacity="0.10"/>
<path d="M1074.18,496.88 Q1077.04,512.54 1069.93,526.78" stroke="#fff" stroke-width="1.1" fill="none" opacity="0.11"/>
<path d="M1404.01,434.02 Q1396.27,449.74 1383.86,462.1" stroke="#fff" stroke-width="1.1" fill="none" opacity="0.07"/>
<path d="M1466.27,541.9 Q1471.37,550.05 1480.2,546.27" stroke="#fff" stroke-width="1.1" fill="none" opacity="0.11"/>
<path d="M1403.04,670.38 Q1389.77,673.69 1376.13,672.66" stroke="#fff" stroke-width="1.1" fill="none" opacity="0.10"/>
<path d="M1412.43,634.03 Q1404.51,650.68 1403.73,669.1" stroke="#fff" stroke-width="1.1" fill="none" opacity="0.06"/>
<path d="M1159.01,526.47 Q1169.11,525.88 1169.61,535.98" stroke="#fff" stroke-width="1.1" fill="none" opacity="0.08"/>
<path d="M1330.81,551.13 Q1342.23,554.65 1348.51,564.81" stroke="#fff" stroke-width="1.1" fill="none" opacity="0.13"/>
<path d="M1336.02,630.96 Q1335.04,641.27 1324.95,643.59" stroke="#fff" stroke-width="1.1" fill="none" opacity="0.09"/>
<path d="M1479.89,641.05 Q1467.16,649.21 1464.76,664.13" stroke="#fff" stroke-width="1.1" fill="none" opacity="0.12"/>
<path d="M1159.5,442.39 Q1170.32,446.69 1173.39,457.92" stroke="#fff" stroke-width="1.1" fill="none" opacity="0.14"/>
<path d="M1432.21,534.74 Q1430.04,551.51 1441.99,563.47" stroke="#fff" stroke-width="1.1" fill="none" opacity="0.10"/>
<path d="M1174.59,512.5 Q1182.88,523.71 1193.39,532.87" stroke="#fff" stroke-width="1.1" fill="none" opacity="0.13"/>
<path d="M1231.27,503.57 Q1238.03,523.75 1230.07,543.49" stroke="#fff" stroke-width="1.1" fill="none" opacity="0.06"/>
<path d="M1109.2,636.95 Q1120.96,651.63 1117.47,670.11" stroke="#fff" stroke-width="1.1" fill="none" opacity="0.09"/>
<path d="M1482.67,604.81 Q1468.64,621.08 1447.16,621.41" stroke="#fff" stroke-width="1.1" fill="none" opacity="0.12"/>
<path d="M1350.2,607.38 Q1352.35,619.17 1341.86,624.97" stroke="#fff" stroke-width="1.1" fill="none" opacity="0.09"/>
<path d="M1254.15,743.61 Q1266.5,757.06 1278.87,770.5" stroke="#fff" stroke-width="1.1" fill="none" opacity="0.07"/>
<path d="M1447.49,716.39 Q1441.41,724.78 1438.88,734.83" stroke="#fff" stroke-width="1.1" fill="none" opacity="0.07"/>
<path d="M1384.25,608.17 Q1391.59,625.85 1381.03,641.82" stroke="#fff" stroke-width="1.1" fill="none" opacity="0.09"/>
<path d="M1071.21,735.53 Q1057.15,747.75 1039.6,754" stroke="#fff" stroke-width="1.1" fill="none" opacity="0.06"/>
<path d="M1432.91,741.36 Q1440.97,748.21 1433.54,755.75" stroke="#fff" stroke-width="1.1" fill="none" opacity="0.12"/>
<path d="M1385.65,473.86 Q1387.85,487.02 1381.7,498.86" stroke="#fff" stroke-width="1.1" fill="none" opacity="0.13"/>
<path d="M1241.27,501.12 Q1236.35,514.84 1223.35,521.45" stroke="#fff" stroke-width="1.1" fill="none" opacity="0.08"/>
<path d="M1482.26,644.28 Q1488.4,656.77 1480.92,668.51" stroke="#fff" stroke-width="1.1" fill="none" opacity="0.08"/>
<path d="M1205.44,624.16 Q1217.46,624.1 1219.64,635.93" stroke="#fff" stroke-width="1.1" fill="none" opacity="0.11"/>
<path d="M1159.45,727.79 Q1178.08,727.17 1194.63,735.75" stroke="#fff" stroke-width="1.1" fill="none" opacity="0.11"/>
<path d="M1153.26,475.14 Q1149.51,493.87 1144.8,512.39" stroke="#fff" stroke-width="1.1" fill="none" opacity="0.12"/>
<path d="M1403.2,494.13 Q1406.12,501.02 1406.36,508.5" stroke="#fff" stroke-width="1.1" fill="none" opacity="0.10"/>
<path d="M1370.16,651.96 Q1389.53,656.3 1407.84,663.99" stroke="#fff" stroke-width="1.1" fill="none" opacity="0.09"/>
<path d="M1426.02,513.16 Q1428.8,521.49 1428.81,530.26" stroke="#fff" stroke-width="1.1" fill="none" opacity="0.08"/>
<path d="M1168.24,733.62 Q1156.8,737.95 1146.11,743.92" stroke="#fff" stroke-width="1.1" fill="none" opacity="0.06"/>
<path d="M1484,705.11 Q1463.51,703.49 1445.91,714.09" stroke="#fff" stroke-width="1.1" fill="none" opacity="0.07"/>
<path d="M1267.6,501.75 Q1279.42,501.74 1290.44,506.01" stroke="#fff" stroke-width="1.1" fill="none" opacity="0.14"/>
<path d="M1174.73,688.13 Q1169.7,702.12 1180.66,712.15" stroke="#fff" stroke-width="1.1" fill="none" opacity="0.14"/>
<path d="M1297.15,666.68 Q1295.24,678.26 1306.88,679.79" stroke="#fff" stroke-width="1.1" fill="none" opacity="0.11"/>
<path d="M1291.43,676.34 Q1289.6,682.89 1287.87,689.47" stroke="#fff" stroke-width="1.1" fill="none" opacity="0.13"/>
<path d="M1129.33,745.88 Q1134.33,751.24 1141.21,753.73" stroke="#fff" stroke-width="1.1" fill="none" opacity="0.11"/>
<path d="M1162.09,471.08 Q1174.11,485.2 1188.51,496.88" stroke="#fff" stroke-width="1.1" fill="none" opacity="0.11"/>
<path d="M1239.62,622.64 Q1227.66,630.57 1213.54,628.07" stroke="#fff" stroke-width="1.1" fill="none" opacity="0.12"/>
<path d="M1163.56,561.24 Q1175.29,571.76 1181.67,586.17" stroke="#fff" stroke-width="1.1" fill="none" opacity="0.12"/>
<path d="M1093.56,581.67 Q1073.68,589.59 1053.61,582.16" stroke="#fff" stroke-width="1.1" fill="none" opacity="0.08"/>
<path d="M1174.73,736.89 Q1158.57,745.86 1140.67,750.46" stroke="#fff" stroke-width="1.1" fill="none" opacity="0.07"/>
<path d="M1414.26,661.82 Q1399.59,659.63 1385.15,662.98" stroke="#fff" stroke-width="1.1" fill="none" opacity="0.06"/>
<path d="M1407.25,529.74 Q1393.49,539.11 1377.23,535.57" stroke="#fff" stroke-width="1.1" fill="none" opacity="0.07"/>
<path d="M1108.09,612.69 Q1101.21,620.71 1101.75,631.26" stroke="#fff" stroke-width="1.1" fill="none" opacity="0.08"/>
<path d="M1330.2,518.17 Q1316.1,515.98 1305.65,525.69" stroke="#fff" stroke-width="1.1" fill="none" opacity="0.07"/>
<path d="M1241.45,522.32 Q1235.27,524.45 1232.35,530.29" stroke="#fff" stroke-width="1.1" fill="none" opacity="0.08"/>
<path d="M1375.28,612.19 Q1387.49,604.91 1399.24,612.92" stroke="#fff" stroke-width="1.1" fill="none" opacity="0.13"/>
<path d="M1443.83,610.2 Q1445.41,628.92 1434.76,644.39" stroke="#fff" stroke-width="1.1" fill="none" opacity="0.07"/>
<path d="M1192.87,725.69 Q1174.3,726.45 1161.81,740.22" stroke="#fff" stroke-width="1.1" fill="none" opacity="0.08"/>
<path d="M1168.13,465.49 Q1152.91,473.09 1136.5,477.54" stroke="#fff" stroke-width="1.1" fill="none" opacity="0.11"/>
<path d="M1128.11,735.79 Q1109.64,731.56 1092.01,738.49" stroke="#fff" stroke-width="1.1" fill="none" opacity="0.13"/>
<path d="M1073.44,672.61 Q1061.87,669.59 1052.64,677.2" stroke="#fff" stroke-width="1.1" fill="none" opacity="0.13"/>
<path d="M1404.57,519.09 Q1418.39,531.08 1436.67,530.43" stroke="#fff" stroke-width="1.1" fill="none" opacity="0.13"/>
<path d="M1156.71,698.76 Q1159.51,712 1171.01,719.13" stroke="#fff" stroke-width="1.1" fill="none" opacity="0.08"/>
<path d="M1072.97,495.01 Q1059.85,491.74 1053.67,503.77" stroke="#fff" stroke-width="1.1" fill="none" opacity="0.08"/>
<path d="M1333.26,562.51 Q1323.16,581.23 1328.77,601.73" stroke="#fff" stroke-width="1.1" fill="none" opacity="0.07"/>
<path d="M1471.83,490.26 Q1490.14,499.94 1498,519.1" stroke="#fff" stroke-width="1.1" fill="none" opacity="0.09"/>
<path d="M1369.94,534.41 Q1371.48,548.96 1368.9,563.36" stroke="#fff" stroke-width="1.1" fill="none" opacity="0.11"/>
<path d="M1170.31,663.53 Q1164.29,664.25 1158.6,666.32" stroke="#fff" stroke-width="1.1" fill="none" opacity="0.12"/>
<path d="M1375.58,651.06 Q1385.77,656.37 1397.25,655.9" stroke="#fff" stroke-width="1.1" fill="none" opacity="0.09"/>
<path d="M1195.25,709.03 Q1207.47,720.03 1214.13,735.06" stroke="#fff" stroke-width="1.1" fill="none" opacity="0.09"/>
<path d="M1232.53,528.52 Q1226.78,538.02 1236.38,543.6" stroke="#fff" stroke-width="1.1" fill="none" opacity="0.11"/>
<path d="M1443.35,633.05 Q1450.71,644.5 1440.29,653.25" stroke="#fff" stroke-width="1.1" fill="none" opacity="0.08"/>
<path d="M1244.11,621.44 Q1246.81,636.4 1247.44,651.59" stroke="#fff" stroke-width="1.1" fill="none" opacity="0.08"/>
<path d="M1262.35,726.41 Q1280.92,728.68 1291.88,743.83" stroke="#fff" stroke-width="1.1" fill="none" opacity="0.10"/>
<path d="M1329.66,541.44 Q1315.08,551.53 1304.88,566.04" stroke="#fff" stroke-width="1.1" fill="none" opacity="0.08"/>
<path d="M1146.89,439.88 Q1141.35,449.77 1148.36,458.68" stroke="#fff" stroke-width="1.1" fill="none" opacity="0.07"/>
<path d="M1237.6,637.71 Q1232.64,644.88 1227.51,651.94" stroke="#fff" stroke-width="1.1" fill="none" opacity="0.08"/>
<path d="M1339.4,433.71 Q1331.69,449.94 1314.62,455.55" stroke="#fff" stroke-width="1.1" fill="none" opacity="0.09"/>
<path d="M1137.1,744.96 Q1150.9,742.59 1163.27,749.13" stroke="#fff" stroke-width="1.1" fill="none" opacity="0.13"/>
<path d="M1255.31,693.8 Q1239.91,692.67 1224.64,694.97" stroke="#fff" stroke-width="1.1" fill="none" opacity="0.14"/>
<path d="M1438.56,632.11 Q1432.37,648.09 1438.08,664.25" stroke="#fff" stroke-width="1.1" fill="none" opacity="0.10"/>
<path d="M1440.99,674.93 Q1452.98,681 1458.35,693.32" stroke="#fff" stroke-width="1.1" fill="none" opacity="0.11"/>
<path d="M1385.64,602.26 Q1401.02,608.54 1404.86,624.71" stroke="#fff" stroke-width="1.1" fill="none" opacity="0.08"/>
<path d="M1177.47,536.38 Q1191.81,537.71 1202.08,547.8" stroke="#fff" stroke-width="1.1" fill="none" opacity="0.12"/>
<path d="M1360.61,452.89 Q1360.55,464.69 1357.49,476.09" stroke="#fff" stroke-width="1.1" fill="none" opacity="0.08"/>
<path d="M1240.01,727.6 Q1226.59,735.49 1223.66,750.77" stroke="#fff" stroke-width="1.1" fill="none" opacity="0.12"/>
<path d="M1223.25,433.83 Q1211,436.92 1207.64,449.11" stroke="#fff" stroke-width="1.1" fill="none" opacity="0.14"/>
<path d="M1239.53,676.19 Q1239.95,690.73 1230.84,702.06" stroke="#fff" stroke-width="1.1" fill="none" opacity="0.08"/>
<path d="M1246.62,441.39 Q1242.36,451.36 1235.19,459.49" stroke="#fff" stroke-width="1.1" fill="none" opacity="0.07"/>
<path d="M1259.91,473.61 Q1274.73,472.95 1289.23,476.1" stroke="#fff" stroke-width="1.1" fill="none" opacity="0.11"/>
<path d="M1074.42,641.95 Q1083.4,648.82 1076.31,657.64" stroke="#fff" stroke-width="1.1" fill="none" opacity="0.09"/>
<path d="M1152.17,538.71 Q1154.13,555.87 1164.52,569.65" stroke="#fff" stroke-width="1.1" fill="none" opacity="0.13"/>
<path d="M1169.28,458.67 Q1159.58,463.78 1167.73,471.11" stroke="#fff" stroke-width="1.1" fill="none" opacity="0.09"/>
<path d="M1336.91,687.21 Q1320.42,691.96 1315.23,708.31" stroke="#fff" stroke-width="1.1" fill="none" opacity="0.08"/>
<path d="M1071.59,481.7 Q1066.65,487.81 1063.7,495.08" stroke="#fff" stroke-width="1.1" fill="none" opacity="0.08"/>
<path d="M1357.68,682.52 Q1350.71,688.93 1352.16,698.28" stroke="#fff" stroke-width="1.1" fill="none" opacity="0.07"/>
<path d="M1408.17,747.17 Q1415.93,744.4 1423.15,748.38" stroke="#fff" stroke-width="1.1" fill="none" opacity="0.11"/>
<path d="M1466.68,561.53 Q1481.42,568.65 1497.79,569.1" stroke="#fff" stroke-width="1.1" fill="none" opacity="0.11"/>
<path d="M1105.93,684.35 Q1106.86,703.48 1094.82,718.39" stroke="#fff" stroke-width="1.1" fill="none" opacity="0.14"/>
<path d="M1392.72,545.37 Q1397.37,556.43 1402.21,567.4" stroke="#fff" stroke-width="1.1" fill="none" opacity="0.09"/>
<path d="M1420.93,700.64 Q1413.21,699.13 1406.08,702.48" stroke="#fff" stroke-width="1.1" fill="none" opacity="0.13"/>
<path d="M1360.99,574.22 Q1345.26,580.09 1328.63,577.74" stroke="#fff" stroke-width="1.1" fill="none" opacity="0.12"/>
<path d="M1289.73,589.91 Q1284.82,601.72 1273.67,608.01" stroke="#fff" stroke-width="1.1" fill="none" opacity="0.13"/>
<path d="M1412.99,460.22 Q1426.65,472.48 1439.42,485.66" stroke="#fff" stroke-width="1.1" fill="none" opacity="0.11"/>
<path d="M1222.67,441.28 Q1240.54,446.61 1252.81,460.65" stroke="#fff" stroke-width="1.1" fill="none" opacity="0.12"/>
<path d="M1206.38,719.59 Q1223.34,725.96 1226.83,743.72" stroke="#fff" stroke-width="1.1" fill="none" opacity="0.14"/>
<path d="M1099.07,667.22 Q1087.4,673.58 1080.45,684.91" stroke="#fff" stroke-width="1.1" fill="none" opacity="0.11"/>
<path d="M1269.78,691.03 Q1273.17,698.36 1280.99,700.4" stroke="#fff" stroke-width="1.1" fill="none" opacity="0.08"/>
<path d="M1308.01,586.56 Q1306.82,600.65 1314.24,612.69" stroke="#fff" stroke-width="1.1" fill="none" opacity="0.09"/>
<path d="M1359.11,520.44 Q1370,518.82 1376.8,527.48" stroke="#fff" stroke-width="1.1" fill="none" opacity="0.07"/>
<path d="M1288.76,680.98 Q1295.62,686.16 1302.12,691.79" stroke="#fff" stroke-width="1.1" fill="none" opacity="0.12"/>
<path d="M1474.44,603.35 Q1485.62,601.21 1493.38,609.54" stroke="#fff" stroke-width="1.1" fill="none" opacity="0.08"/>
<path d="M1138.6,436.52 Q1140.89,452.31 1156.15,456.98" stroke="#fff" stroke-width="1.1" fill="none" opacity="0.10"/>
<path d="M1356.82,473.17 Q1350.64,491.51 1357.86,509.47" stroke="#fff" stroke-width="1.1" fill="none" opacity="0.11"/>
<path d="M1260.76,575.85 Q1267.95,585.06 1277.7,578.6" stroke="#fff" stroke-width="1.1" fill="none" opacity="0.10"/>
<path d="M1409.36,562.85 Q1413.95,572.49 1403.79,575.78" stroke="#fff" stroke-width="1.1" fill="none" opacity="0.07"/>
<path d="M1300.12,531.19 Q1316.95,542.87 1337.23,545.68" stroke="#fff" stroke-width="1.1" fill="none" opacity="0.11"/>
<path d="M1396.14,505.65 Q1399.22,518.65 1400.26,531.97" stroke="#fff" stroke-width="1.1" fill="none" opacity="0.13"/>
<path d="M1480.1,531.7 Q1471.07,544.07 1470.18,559.36" stroke="#fff" stroke-width="1.1" fill="none" opacity="0.14"/>
<path d="M1150.54,500.86 Q1166.75,502.91 1177.4,515.3" stroke="#fff" stroke-width="1.1" fill="none" opacity="0.07"/>
<path d="M1064.13,579.12 Q1076.69,587.52 1081.58,601.81" stroke="#fff" stroke-width="1.1" fill="none" opacity="0.12"/>
<path d="M1359.17,580.28 Q1342.76,578.94 1328.81,587.68" stroke="#fff" stroke-width="1.1" fill="none" opacity="0.11"/>
<path d="M1341.56,737.02 Q1337.26,748.49 1338.22,760.69" stroke="#fff" stroke-width="1.1" fill="none" opacity="0.13"/>
<path d="M1411.26,455.24 Q1412.3,464.63 1420.72,468.93" stroke="#fff" stroke-width="1.1" fill="none" opacity="0.11"/>
<path d="M1184.59,472.54 Q1168.96,480.52 1166.23,497.86" stroke="#fff" stroke-width="1.1" fill="none" opacity="0.10"/>
<path d="M1271.04,458.19 Q1275.55,463.92 1273.82,471.01" stroke="#fff" stroke-width="1.1" fill="none" opacity="0.08"/>
<path d="M1101.48,746.25 Q1089.44,761.57 1093.19,780.68" stroke="#fff" stroke-width="1.1" fill="none" opacity="0.14"/>
<path d="M1346.23,519.98 Q1341.87,524.91 1336.77,529.07" stroke="#fff" stroke-width="1.1" fill="none" opacity="0.11"/>
<path d="M1448.94,491.21 Q1443.24,504.21 1437.28,517.09" stroke="#fff" stroke-width="1.1" fill="none" opacity="0.07"/>
<path d="M1209.6,540.83 Q1197.05,550.24 1181.85,554.12" stroke="#fff" stroke-width="1.1" fill="none" opacity="0.12"/>
<path d="M1184.43,740.79 Q1182.5,758.09 1178.97,775.14" stroke="#fff" stroke-width="1.1" fill="none" opacity="0.09"/>
<path d="M1199.2,748.96 Q1189.88,760.2 1198.13,772.25" stroke="#fff" stroke-width="1.1" fill="none" opacity="0.11"/>
<path d="M1291.59,566.95 Q1291.04,576.72 1298.85,582.6" stroke="#fff" stroke-width="1.1" fill="none" opacity="0.11"/>
<path d="M1383.18,498.42 Q1370.1,502.59 1356.51,504.59" stroke="#fff" stroke-width="1.1" fill="none" opacity="0.12"/>
<path d="M1114.16,749.92 Q1128.97,755.35 1135.38,769.76" stroke="#fff" stroke-width="1.1" fill="none" opacity="0.10"/>
<path d="M1295.66,462.36 Q1276.7,468.4 1257.36,473.11" stroke="#fff" stroke-width="1.1" fill="none" opacity="0.07"/>
<path d="M1413.58,594.77 Q1417.21,610.91 1412.69,626.82" stroke="#fff" stroke-width="1.1" fill="none" opacity="0.13"/>
<path d="M1475.98,511.55 Q1473.79,527.08 1485.79,537.17" stroke="#fff" stroke-width="1.1" fill="none" opacity="0.10"/>
<path d="M1433.46,714.26 Q1426.6,721.52 1417.87,726.36" stroke="#fff" stroke-width="1.1" fill="none" opacity="0.13"/>
<path d="M1276.91,700.06 Q1281.54,709.01 1288.69,716.12" stroke="#fff" stroke-width="1.1" fill="none" opacity="0.14"/>
<path d="M1269.29,480.46 Q1274.79,492.87 1281.95,504.4" stroke="#fff" stroke-width="1.1" fill="none" opacity="0.10"/>
<path d="M1254.84,537.06 Q1248.76,543.34 1244.79,551.12" stroke="#fff" stroke-width="1.1" fill="none" opacity="0.08"/>
<path d="M1389.74,446.16 Q1375.38,455.92 1369.99,472.42" stroke="#fff" stroke-width="1.1" fill="none" opacity="0.09"/>
<path d="M1342.61,700.12 Q1351.23,719.73 1343.19,739.58" stroke="#fff" stroke-width="1.1" fill="none" opacity="0.10"/>
<path d="M1311.64,716.12 Q1314.58,734.12 1318.44,751.96" stroke="#fff" stroke-width="1.1" fill="none" opacity="0.10"/>
<path d="M1367.37,565.88 Q1381.04,572.47 1394.2,580.02" stroke="#fff" stroke-width="1.1" fill="none" opacity="0.14"/>
<path d="M1205.64,658.28 Q1189.3,659.39 1178.66,671.83" stroke="#fff" stroke-width="1.1" fill="none" opacity="0.13"/>
<path d="M1223.1,535.38 Q1206.81,541.52 1199.72,557.42" stroke="#fff" stroke-width="1.1" fill="none" opacity="0.06"/>
<path d="M1091.83,638.16 Q1072.9,633.87 1054.04,638.47" stroke="#fff" stroke-width="1.1" fill="none" opacity="0.09"/>
<path d="M1104.47,639.01 Q1104.24,657.56 1110.89,674.87" stroke="#fff" stroke-width="1.1" fill="none" opacity="0.13"/>
<path d="M1082.38,692.08 Q1092.14,698.97 1090.12,710.75" stroke="#fff" stroke-width="1.1" fill="none" opacity="0.10"/>
<path d="M1301.43,690.9 Q1307.91,699.42 1317.67,695.01" stroke="#fff" stroke-width="1.1" fill="none" opacity="0.11"/>
<path d="M1164.46,730.21 Q1169.83,737.62 1166.41,746.1" stroke="#fff" stroke-width="1.1" fill="none" opacity="0.08"/>
<path d="M1066.96,694.85 Q1062.32,713.91 1047.24,726.44" stroke="#fff" stroke-width="1.1" fill="none" opacity="0.10"/>
<path d="M1208.59,623.92 Q1216.48,637.38 1215.63,652.97" stroke="#fff" stroke-width="1.1" fill="none" opacity="0.13"/>
<path d="M1146.93,557.62 Q1155.43,567.23 1165.69,574.93" stroke="#fff" stroke-width="1.1" fill="none" opacity="0.11"/>
<path d="M1481.22,528.38 Q1475.4,547.63 1462.44,563" stroke="#fff" stroke-width="1.1" fill="none" opacity="0.11"/>
<path d="M1351.93,675.26 Q1349.79,681.59 1347.54,687.89" stroke="#fff" stroke-width="1.1" fill="none" opacity="0.13"/>
<path d="M1183.57,692.97 Q1187.86,707.03 1196.55,718.9" stroke="#fff" stroke-width="1.1" fill="none" opacity="0.11"/>
<path d="M1348.54,667.5 Q1334.11,672.89 1321.93,682.31" stroke="#fff" stroke-width="1.1" fill="none" opacity="0.13"/>
<path d="M1335.3,532.86 Q1328.24,543.62 1329.28,556.45" stroke="#fff" stroke-width="1.1" fill="none" opacity="0.07"/>
<path d="M1187.33,676.18 Q1194.78,680.24 1202.81,683" stroke="#fff" stroke-width="1.1" fill="none" opacity="0.14"/>
<path d="M1286.65,730.43 Q1294.61,747.2 1311.02,755.9" stroke="#fff" stroke-width="1.1" fill="none" opacity="0.10"/>
<path d="M1402.77,675.88 Q1409.87,687.47 1422.87,683.48" stroke="#fff" stroke-width="1.1" fill="none" opacity="0.07"/>
<path d="M1470.19,712.99 Q1453.55,705.62 1437.97,715.03" stroke="#fff" stroke-width="1.1" fill="none" opacity="0.12"/>
<path d="M1217.1,690.29 Q1217.2,696.54 1215.68,702.6" stroke="#fff" stroke-width="1.1" fill="none" opacity="0.11"/>
<path d="M1346.26,622.93 Q1330.37,633.13 1311.84,629.47" stroke="#fff" stroke-width="1.1" fill="none" opacity="0.08"/>
<path d="M1073.54,720.87 Q1061.49,729.35 1046.8,728.16" stroke="#fff" stroke-width="1.1" fill="none" opacity="0.07"/>
<path d="M1410.09,729.09 Q1419.21,737.05 1415.9,748.71" stroke="#fff" stroke-width="1.1" fill="none" opacity="0.14"/>
<path d="M1191.23,592.89 Q1186.6,601.59 1177.42,598" stroke="#fff" stroke-width="1.1" fill="none" opacity="0.10"/>
<path d="M1345.48,674.76 Q1346.09,694.48 1355.15,712.01" stroke="#fff" stroke-width="1.1" fill="none" opacity="0.07"/>
<path d="M1237.79,464.26 Q1233.66,478.89 1245.11,488.9" stroke="#fff" stroke-width="1.1" fill="none" opacity="0.06"/>
<path d="M1219.1,576.8 Q1204.92,591.75 1184.4,593.74" stroke="#fff" stroke-width="1.1" fill="none" opacity="0.11"/>
<path d="M1292.38,751.46 Q1301.15,760.16 1299.32,772.38" stroke="#fff" stroke-width="1.1" fill="none" opacity="0.07"/>
<path d="M1420.28,580.5 Q1412.12,593.54 1407.12,608.08" stroke="#fff" stroke-width="1.1" fill="none" opacity="0.06"/>
<path d="M1394.48,511.5 Q1400.52,520.67 1391.35,526.71" stroke="#fff" stroke-width="1.1" fill="none" opacity="0.12"/>
<path d="M1150.28,502.47 Q1165.04,514.82 1168.92,533.68" stroke="#fff" stroke-width="1.1" fill="none" opacity="0.13"/>
<path d="M1064.19,712.43 Q1073.34,711.5 1078.93,718.8" stroke="#fff" stroke-width="1.1" fill="none" opacity="0.07"/>
<path d="M1341.5,440.32 Q1339.49,447.86 1331.69,447.94" stroke="#fff" stroke-width="1.1" fill="none" opacity="0.09"/>
<path d="M1136.41,449.02 Q1130.66,464.99 1133.73,481.68" stroke="#fff" stroke-width="1.1" fill="none" opacity="0.10"/>
<path d="M1390.78,599.63 Q1382.67,607.06 1390.6,614.68" stroke="#fff" stroke-width="1.1" fill="none" opacity="0.06"/>
<path d="M1392.97,715.23 Q1386.44,729.51 1396.47,741.6" stroke="#fff" stroke-width="1.1" fill="none" opacity="0.06"/>
<path d="M1264.8,563.15 Q1257.9,578.97 1265.75,594.34" stroke="#fff" stroke-width="1.1" fill="none" opacity="0.07"/>
<path d="M1097.04,630.69 Q1099.71,637.51 1106.02,641.22" stroke="#fff" stroke-width="1.1" fill="none" opacity="0.10"/>
<path d="M1200,756.94 Q1200.07,770.51 1203.89,783.52" stroke="#fff" stroke-width="1.1" fill="none" opacity="0.07"/>
<path d="M1358.66,710.59 Q1344.72,717.65 1336.05,730.66" stroke="#fff" stroke-width="1.1" fill="none" opacity="0.08"/>
<path d="M1253.24,506.57 Q1256.3,516.98 1256.37,527.83" stroke="#fff" stroke-width="1.1" fill="none" opacity="0.07"/>
<path d="M1242.8,649.26 Q1249.26,661.2 1262.74,659.63" stroke="#fff" stroke-width="1.1" fill="none" opacity="0.07"/>
<path d="M1413.43,462.37 Q1404.31,463.92 1403.4,473.12" stroke="#fff" stroke-width="1.1" fill="none" opacity="0.10"/>
<path d="M1310.08,615.43 Q1320.91,616.96 1329.76,623.38" stroke="#fff" stroke-width="1.1" fill="none" opacity="0.11"/>
<path d="M1379.09,715.59 Q1362.9,715.39 1347.06,718.78" stroke="#fff" stroke-width="1.1" fill="none" opacity="0.09"/>
<path d="M1306.48,501.42 Q1322.62,505.89 1329.63,521.1" stroke="#fff" stroke-width="1.1" fill="none" opacity="0.13"/>
<path d="M1217.85,681.12 Q1202.78,684 1194.77,697.1" stroke="#fff" stroke-width="1.1" fill="none" opacity="0.14"/>
<path d="M1407.8,632.42 Q1422.11,641.35 1437.7,634.89" stroke="#fff" stroke-width="1.1" fill="none" opacity="0.13"/>
<path d="M1175.68,490.86 Q1187,502.3 1193.56,517" stroke="#fff" stroke-width="1.1" fill="none" opacity="0.06"/>
<path d="M1429.47,616.97 Q1438.92,624.14 1450.43,626.98" stroke="#fff" stroke-width="1.1" fill="none" opacity="0.06"/>
<path d="M1377.34,502.21 Q1385.08,511.51 1388.72,523.05" stroke="#fff" stroke-width="1.1" fill="none" opacity="0.12"/>
<path d="M1390.28,617.39 Q1398.39,612.49 1404.46,619.76" stroke="#fff" stroke-width="1.1" fill="none" opacity="0.11"/>
<path d="M1346.94,520.82 Q1348.67,536.03 1348.32,551.33" stroke="#fff" stroke-width="1.1" fill="none" opacity="0.08"/>
<path d="M1381.06,469.1 Q1386.13,480.46 1396.19,487.77" stroke="#fff" stroke-width="1.1" fill="none" opacity="0.10"/>
<path d="M1344.06,446.74 Q1348.96,460.44 1336.98,468.7" stroke="#fff" stroke-width="1.1" fill="none" opacity="0.08"/>
<path d="M1151.99,476.75 Q1164.52,480.41 1161.84,493.18" stroke="#fff" stroke-width="1.1" fill="none" opacity="0.12"/>
<path d="M1137.02,556.15 Q1131.01,572 1136.99,587.85" stroke="#fff" stroke-width="1.1" fill="none" opacity="0.12"/>
<path d="M1093.37,713.52 Q1099.5,721.48 1106.53,714.3" stroke="#fff" stroke-width="1.1" fill="none" opacity="0.13"/>
<path d="M1305.57,619.29 Q1316.34,632.92 1313.72,650.09" stroke="#fff" stroke-width="1.1" fill="none" opacity="0.06"/>
<path d="M1199.82,693.77 Q1183.36,694.62 1174.5,708.53" stroke="#fff" stroke-width="1.1" fill="none" opacity="0.07"/>
<path d="M1418.78,511.42 Q1419.58,525.76 1416.64,539.82" stroke="#fff" stroke-width="1.1" fill="none" opacity="0.08"/>
<path d="M1206.04,540.75 Q1212.71,549.32 1205.49,557.45" stroke="#fff" stroke-width="1.1" fill="none" opacity="0.10"/>
<path d="M1444.67,546.08 Q1427.98,550.01 1417.39,563.51" stroke="#fff" stroke-width="1.1" fill="none" opacity="0.08"/>
<path d="M1124.7,496.37 Q1112.25,504.2 1103.64,516.12" stroke="#fff" stroke-width="1.1" fill="none" opacity="0.07"/>
<path d="M1388.6,593.38 Q1377.16,605.39 1364.46,616.06" stroke="#fff" stroke-width="1.1" fill="none" opacity="0.13"/>
<path d="M1300.82,639.52 Q1286.45,643.53 1273.97,651.71" stroke="#fff" stroke-width="1.1" fill="none" opacity="0.07"/>
<path d="M1091.77,576.41 Q1104.5,579 1105.08,591.97" stroke="#fff" stroke-width="1.1" fill="none" opacity="0.10"/>
<path d="M1193.77,579.59 Q1191.75,589.59 1182.04,586.44" stroke="#fff" stroke-width="1.1" fill="none" opacity="0.13"/>
<path d="M1423.34,632.88 Q1423.9,646.01 1426.4,658.9" stroke="#fff" stroke-width="1.1" fill="none" opacity="0.12"/>
<path d="M1440.43,578.87 Q1435.33,595.75 1424.51,609.68" stroke="#fff" stroke-width="1.1" fill="none" opacity="0.10"/>
<path d="M1126.56,452.12 Q1120.36,457.12 1112.4,456.76" stroke="#fff" stroke-width="1.1" fill="none" opacity="0.12"/>
<path d="M1275.57,488.29 Q1278.48,497.37 1279.25,506.87" stroke="#fff" stroke-width="1.1" fill="none" opacity="0.10"/>
<path d="M1129.88,553.75 Q1135.49,562.48 1135.51,572.86" stroke="#fff" stroke-width="1.1" fill="none" opacity="0.11"/>
<path d="M1395.5,643.44 Q1401.18,648.54 1408.74,647.49" stroke="#fff" stroke-width="1.1" fill="none" opacity="0.08"/>
<path d="M1367.91,646.47 Q1351.84,656.48 1333.45,660.96" stroke="#fff" stroke-width="1.1" fill="none" opacity="0.11"/>
<path d="M1122.58,546.22 Q1112.75,563.23 1099.76,577.96" stroke="#fff" stroke-width="1.1" fill="none" opacity="0.11"/>
<path d="M1458.18,533.07 Q1445.8,535.46 1440.29,546.8" stroke="#fff" stroke-width="1.1" fill="none" opacity="0.11"/>
<path d="M1412.24,673.33 Q1408.33,688.66 1409.66,704.42" stroke="#fff" stroke-width="1.1" fill="none" opacity="0.09"/>
<path d="M1215.44,550.4 Q1217.08,562.01 1228.77,561.02" stroke="#fff" stroke-width="1.1" fill="none" opacity="0.10"/>
<path d="M1158.44,476.86 Q1155.56,486.52 1145.94,483.5" stroke="#fff" stroke-width="1.1" fill="none" opacity="0.12"/>
<path d="M1414.84,720.69 Q1413.86,728.73 1421.24,732.06" stroke="#fff" stroke-width="1.1" fill="none" opacity="0.07"/>
<path d="M1221.71,484.92 Q1204.78,492.36 1195.17,508.16" stroke="#fff" stroke-width="1.1" fill="none" opacity="0.07"/>
<path d="M1247.39,566.17 Q1259.43,575.93 1270.11,587.17" stroke="#fff" stroke-width="1.1" fill="none" opacity="0.08"/>
<path d="M1378.36,578.61 Q1381.36,592.87 1393.55,600.88" stroke="#fff" stroke-width="1.1" fill="none" opacity="0.10"/>
<path d="M1414.83,552.11 Q1395.63,553.74 1376.36,553.99" stroke="#fff" stroke-width="1.1" fill="none" opacity="0.08"/>
<path d="M1223.88,604.27 Q1204.55,610.35 1191.11,625.52" stroke="#fff" stroke-width="1.1" fill="none" opacity="0.07"/>
<path d="M1168.33,641.44 Q1172.27,660.63 1162.11,677.38" stroke="#fff" stroke-width="1.1" fill="none" opacity="0.13"/>
<path d="M1421.6,525.06 Q1427,542.45 1443.44,550.28" stroke="#fff" stroke-width="1.1" fill="none" opacity="0.07"/>
<path d="M1247.31,741.19 Q1251.38,749.78 1250.09,759.19" stroke="#fff" stroke-width="1.1" fill="none" opacity="0.06"/>
<path d="M1085.44,595.96 Q1076.18,598.37 1066.84,596.28" stroke="#fff" stroke-width="1.1" fill="none" opacity="0.06"/>
<path d="M1455.16,706.14 Q1447.16,720.52 1431.22,724.55" stroke="#fff" stroke-width="1.1" fill="none" opacity="0.08"/>
<path d="M1412.58,659.38 Q1408.54,666.28 1403.02,672.06" stroke="#fff" stroke-width="1.1" fill="none" opacity="0.06"/>
<path d="M1096.38,515.54 Q1089.63,532.39 1090.97,550.5" stroke="#fff" stroke-width="1.1" fill="none" opacity="0.10"/>
<path d="M1109.84,526.05 Q1120.16,526.15 1130.05,529.11" stroke="#fff" stroke-width="1.1" fill="none" opacity="0.12"/>
<path d="M1255.58,468.13 Q1258.3,488.55 1244.41,503.76" stroke="#fff" stroke-width="1.1" fill="none" opacity="0.10"/>
<path d="M1164.93,478.82 Q1165.06,491.71 1156.45,501.29" stroke="#fff" stroke-width="1.1" fill="none" opacity="0.09"/>
<path d="M1342.9,459.88 Q1362,464.48 1381.31,468.17" stroke="#fff" stroke-width="1.1" fill="none" opacity="0.10"/>
<path d="M1479.38,613 Q1478.03,624.64 1481.53,635.83" stroke="#fff" stroke-width="1.1" fill="none" opacity="0.14"/>
<path d="M1169.86,437.21 Q1174.14,454.23 1185.83,467.32" stroke="#fff" stroke-width="1.1" fill="none" opacity="0.11"/>
<path d="M1388.03,672.16 Q1398.47,674.46 1409.14,675.12" stroke="#fff" stroke-width="1.1" fill="none" opacity="0.13"/>
<path d="M1136.77,686.52 Q1127.62,695.38 1122.36,706.97" stroke="#fff" stroke-width="1.1" fill="none" opacity="0.12"/>
<path d="M1089.58,685.56 Q1103.62,690.48 1104.58,705.33" stroke="#fff" stroke-width="1.1" fill="none" opacity="0.08"/>
<path d="M1080.65,736.93 Q1067.42,736.6 1054.24,737.83" stroke="#fff" stroke-width="1.1" fill="none" opacity="0.08"/>
<path d="M1380.36,494.35 Q1367.69,496.26 1363.38,508.33" stroke="#fff" stroke-width="1.1" fill="none" opacity="0.09"/>
<path d="M1115.44,552.17 Q1097.54,560.57 1089.9,578.81" stroke="#fff" stroke-width="1.1" fill="none" opacity="0.09"/>
<path d="M1473.23,594.06 Q1460.55,596.78 1448.03,600.17" stroke="#fff" stroke-width="1.1" fill="none" opacity="0.12"/>
<path d="M1369.32,457.69 Q1356.64,464.64 1344.83,472.98" stroke="#fff" stroke-width="1.1" fill="none" opacity="0.09"/>
<path d="M1096.73,647.89 Q1094.73,658.07 1090.21,667.41" stroke="#fff" stroke-width="1.1" fill="none" opacity="0.12"/>
<path d="M1211.11,445.74 Q1211.21,466.01 1227.35,478.27" stroke="#fff" stroke-width="1.1" fill="none" opacity="0.08"/>
<path d="M1475.89,741.68 Q1475.17,749.11 1469.98,754.48" stroke="#fff" stroke-width="1.1" fill="none" opacity="0.12"/>
<path d="M1349.24,743.27 Q1341.81,749.14 1343.93,758.36" stroke="#fff" stroke-width="1.1" fill="none" opacity="0.06"/>
<path d="M1091.33,686.32 Q1094.2,697.14 1099.33,707.09" stroke="#fff" stroke-width="1.1" fill="none" opacity="0.11"/>
<path d="M1349.09,741.98 Q1339.94,748.59 1332.6,757.16" stroke="#fff" stroke-width="1.1" fill="none" opacity="0.10"/>
<path d="M1230.69,644.18 Q1238.11,651.46 1248.49,650.8" stroke="#fff" stroke-width="1.1" fill="none" opacity="0.10"/>
<path d="M1226.04,615.45 Q1233.35,621.84 1239.26,629.56" stroke="#fff" stroke-width="1.1" fill="none" opacity="0.14"/>
<path d="M1183.31,731.41 Q1192.86,742.13 1207.18,741.08" stroke="#fff" stroke-width="1.1" fill="none" opacity="0.10"/>
<path d="M1441.61,577.36 Q1432.47,580.08 1433.79,589.52" stroke="#fff" stroke-width="1.1" fill="none" opacity="0.09"/>
<path d="M1209.37,453.12 Q1194.45,451.71 1183.76,462.22" stroke="#fff" stroke-width="1.1" fill="none" opacity="0.12"/>
<path d="M1453.68,640.3 Q1460.02,657.59 1452.74,674.51" stroke="#fff" stroke-width="1.1" fill="none" opacity="0.08"/>
<path d="M1121.51,690.19 Q1122.76,696.87 1119.36,702.75" stroke="#fff" stroke-width="1.1" fill="none" opacity="0.12"/>
<path d="M1295.41,631.88 Q1292.05,642.91 1303.54,643.79" stroke="#fff" stroke-width="1.1" fill="none" opacity="0.12"/>
<path d="M1284.48,683.26 Q1299.58,695.56 1318.59,691.31" stroke="#fff" stroke-width="1.1" fill="none" opacity="0.11"/>
<path d="M1252.57,654.16 Q1240.65,653.53 1232.5,662.26" stroke="#fff" stroke-width="1.1" fill="none" opacity="0.11"/>
<path d="M1139.66,747.68 Q1130.29,758.7 1116.49,754.35" stroke="#fff" stroke-width="1.1" fill="none" opacity="0.07"/>
<path d="M1127.47,485.71 Q1123.23,495.73 1114.61,502.36" stroke="#fff" stroke-width="1.1" fill="none" opacity="0.14"/>
<path d="M1440.03,708.35 Q1435.28,716.64 1432.2,725.68" stroke="#fff" stroke-width="1.1" fill="none" opacity="0.07"/>
<path d="M1190.58,606.24 Q1197.81,619.69 1213.08,619.42" stroke="#fff" stroke-width="1.1" fill="none" opacity="0.07"/>
<path d="M1340.52,667.4 Q1327.24,673.27 1315.05,681.14" stroke="#fff" stroke-width="1.1" fill="none" opacity="0.13"/>
<path d="M1074.95,446.76 Q1068.73,460.65 1067.8,475.85" stroke="#fff" stroke-width="1.1" fill="none" opacity="0.12"/>
<path d="M1238.51,640.72 Q1236.95,654.15 1228.42,664.62" stroke="#fff" stroke-width="1.1" fill="none" opacity="0.14"/>
<path d="M1266.46,694.87 Q1281.91,702.84 1284.99,719.95" stroke="#fff" stroke-width="1.1" fill="none" opacity="0.06"/>
<path d="M1248.21,590.15 Q1248.48,599.63 1242.38,606.88" stroke="#fff" stroke-width="1.1" fill="none" opacity="0.12"/>
<path d="M1372.32,713.2 Q1391.27,718.92 1408.36,728.9" stroke="#fff" stroke-width="1.1" fill="none" opacity="0.10"/>
<path d="M1197.44,584.34 Q1209.48,586.02 1211.31,598.03" stroke="#fff" stroke-width="1.1" fill="none" opacity="0.08"/>
<path d="M1224.84,633.01 Q1218.72,642.48 1207.56,640.79" stroke="#fff" stroke-width="1.1" fill="none" opacity="0.09"/>
<path d="M1306.38,534.1 Q1306.21,550.78 1306.56,567.46" stroke="#fff" stroke-width="1.1" fill="none" opacity="0.10"/>
<path d="M1192.99,439.47 Q1184.26,458.56 1192.33,477.93" stroke="#fff" stroke-width="1.1" fill="none" opacity="0.08"/>
<path d="M1211.67,448.42 Q1198.62,450.5 1187.56,457.76" stroke="#fff" stroke-width="1.1" fill="none" opacity="0.10"/>
<path d="M1289.11,708.76 Q1276.41,709.28 1266.66,717.44" stroke="#fff" stroke-width="1.1" fill="none" opacity="0.12"/>
<path d="M1217.17,562.81 Q1228.07,571.62 1240.07,578.87" stroke="#fff" stroke-width="1.1" fill="none" opacity="0.07"/>
<path d="M1275.44,681.71 Q1265.42,678.8 1255.62,682.39" stroke="#fff" stroke-width="1.1" fill="none" opacity="0.07"/>
<path d="M1473.8,560.63 Q1475.18,579.44 1490.39,590.6" stroke="#fff" stroke-width="1.1" fill="none" opacity="0.12"/>
<path d="M1146.86,598.28 Q1160.66,593.66 1172.6,601.97" stroke="#fff" stroke-width="1.1" fill="none" opacity="0.09"/>
<path d="M1262.59,581.24 Q1264.98,595.87 1261.18,610.18" stroke="#fff" stroke-width="1.1" fill="none" opacity="0.11"/>
<path d="M1131.46,755.63 Q1143.48,767.1 1150.75,782.04" stroke="#fff" stroke-width="1.1" fill="none" opacity="0.13"/>
<path d="M1287.27,663.52 Q1280.04,671.08 1270.2,674.67" stroke="#fff" stroke-width="1.1" fill="none" opacity="0.11"/>
<path d="M1475.83,622.65 Q1462.11,633.49 1453.52,648.72" stroke="#fff" stroke-width="1.1" fill="none" opacity="0.06"/>
<path d="M1262.94,747.94 Q1249.1,757.84 1237.07,769.87" stroke="#fff" stroke-width="1.1" fill="none" opacity="0.12"/>
<path d="M1308.84,487.62 Q1297.69,499.14 1297.96,515.17" stroke="#fff" stroke-width="1.1" fill="none" opacity="0.07"/>
<path d="M1349.79,442.22 Q1370.86,440.59 1386.07,455.26" stroke="#fff" stroke-width="1.1" fill="none" opacity="0.09"/>
<path d="M1126.8,657.56 Q1112.95,659.43 1108.94,672.81" stroke="#fff" stroke-width="1.1" fill="none" opacity="0.13"/>
<path d="M1373.01,452.25 Q1381.23,454.56 1385.63,461.87" stroke="#fff" stroke-width="1.1" fill="none" opacity="0.11"/>
<path d="M1284.38,534.43 Q1277.05,539.46 1268.17,539.03" stroke="#fff" stroke-width="1.1" fill="none" opacity="0.09"/>
<path d="M1388.24,667.5 Q1378.05,678.69 1371.11,692.14" stroke="#fff" stroke-width="1.1" fill="none" opacity="0.08"/>
<path d="M1166.86,614.28 Q1158.05,618.69 1148.63,615.84" stroke="#fff" stroke-width="1.1" fill="none" opacity="0.08"/>
<path d="M1150.33,662.29 Q1148.16,675.14 1159.87,680.86" stroke="#fff" stroke-width="1.1" fill="none" opacity="0.12"/>
<path d="M1178.21,471.73 Q1175.88,489.3 1189.63,500.49" stroke="#fff" stroke-width="1.1" fill="none" opacity="0.13"/>
<path d="M1465.18,694.85 Q1468.38,705.14 1477.63,710.66" stroke="#fff" stroke-width="1.1" fill="none" opacity="0.09"/>
<path d="M1249.37,515.71 Q1259.19,523.8 1269.84,530.78" stroke="#fff" stroke-width="1.1" fill="none" opacity="0.13"/>
<path d="M1356.3,476.76 Q1356.82,492.09 1348.42,504.92" stroke="#fff" stroke-width="1.1" fill="none" opacity="0.11"/>
<path d="M1286.73,640.38 Q1284.77,647.92 1290.35,653.35" stroke="#fff" stroke-width="1.1" fill="none" opacity="0.07"/>
<path d="M1387.72,433.59 Q1374.73,438.26 1360.99,439.65" stroke="#fff" stroke-width="1.1" fill="none" opacity="0.13"/>
<path d="M1433.07,587.93 Q1424.7,592.12 1415.6,589.92" stroke="#fff" stroke-width="1.1" fill="none" opacity="0.11"/>
<path d="M1445.51,461.14 Q1439.98,474.65 1442.42,489.04" stroke="#fff" stroke-width="1.1" fill="none" opacity="0.13"/>
<path d="M1447.74,489.11 Q1459.4,505.17 1478.99,508.37" stroke="#fff" stroke-width="1.1" fill="none" opacity="0.14"/>
<path d="M1230.25,593.79 Q1210.37,588.45 1192.3,598.33" stroke="#fff" stroke-width="1.1" fill="none" opacity="0.13"/>
<path d="M1066.9,617.51 Q1059.62,621.78 1051.92,618.31" stroke="#fff" stroke-width="1.1" fill="none" opacity="0.14"/>
<path d="M1291.89,593.31 Q1275.07,602.46 1257.73,610.58" stroke="#fff" stroke-width="1.1" fill="none" opacity="0.08"/>
<path d="M1110.46,485 Q1123.13,490.09 1127.62,502.97" stroke="#fff" stroke-width="1.1" fill="none" opacity="0.12"/>
<path d="M1396.15,617.45 Q1406.93,631.61 1424.43,634.84" stroke="#fff" stroke-width="1.1" fill="none" opacity="0.13"/>
<path d="M1411.41,600.29 Q1412.64,609.39 1404.1,612.73" stroke="#fff" stroke-width="1.1" fill="none" opacity="0.07"/>
<path d="M1199.33,512.96 Q1203.38,522.84 1213.59,525.98" stroke="#fff" stroke-width="1.1" fill="none" opacity="0.14"/>
<path d="M1190.21,668.14 Q1184.28,671.98 1184.49,679.05" stroke="#fff" stroke-width="1.1" fill="none" opacity="0.06"/>
<path d="M1112.81,532.16 Q1105.6,543.78 1112.62,555.52" stroke="#fff" stroke-width="1.1" fill="none" opacity="0.12"/>
<path d="M1194.02,470.27 Q1203.67,486.57 1216.62,500.38" stroke="#fff" stroke-width="1.1" fill="none" opacity="0.08"/>
<path d="M1119.27,481.96 Q1115.33,498.02 1108.53,513.1" stroke="#fff" stroke-width="1.1" fill="none" opacity="0.10"/>
<path d="M1261.36,607.56 Q1276.08,613.74 1285.03,626.94" stroke="#fff" stroke-width="1.1" fill="none" opacity="0.12"/>
<path d="M1430.85,458.66 Q1429.62,473.02 1416.21,478.31" stroke="#fff" stroke-width="1.1" fill="none" opacity="0.11"/>
<path d="M1089.02,610.87 Q1092.2,625.04 1083.1,636.35" stroke="#fff" stroke-width="1.1" fill="none" opacity="0.09"/>
<path d="M1282.22,469.89 Q1287.04,480.36 1277.64,487.04" stroke="#fff" stroke-width="1.1" fill="none" opacity="0.10"/>
</g>
<ellipse cx="1403.7" cy="580.08" rx="4.03" ry="5.23" fill="url(#gloww)" opacity="0.27"/>
<ellipse cx="1087.32" cy="583.01" rx="4.61" ry="6" fill="url(#gloww)" opacity="0.31"/>
<ellipse cx="1229.81" cy="698.72" rx="4.49" ry="5.84" fill="url(#gloww)" opacity="0.29"/>
<ellipse cx="1082.08" cy="544.49" rx="3.13" ry="4.07" fill="url(#gloww)" opacity="0.35"/>
<ellipse cx="1456.74" cy="454.46" rx="4.87" ry="6.33" fill="url(#gloww)" opacity="0.20"/>
<ellipse cx="1235.26" cy="683.2" rx="4.53" ry="5.89" fill="url(#gloww)" opacity="0.35"/>
<ellipse cx="1335.11" cy="569.27" rx="4.99" ry="6.48" fill="url(#gloww)" opacity="0.26"/>
<ellipse cx="1429.37" cy="728.23" rx="3.75" ry="4.88" fill="url(#gloww)" opacity="0.30"/>
<ellipse cx="1341.81" cy="608.14" rx="4.31" ry="5.6" fill="url(#gloww)" opacity="0.25"/>
<ellipse cx="1138.19" cy="607.48" rx="4.06" ry="5.27" fill="url(#gloww)" opacity="0.31"/>
<ellipse cx="1156.82" cy="433.04" rx="3.05" ry="3.96" fill="url(#gloww)" opacity="0.24"/>
<ellipse cx="1346.75" cy="609.82" rx="4.06" ry="5.28" fill="url(#gloww)" opacity="0.32"/>
<ellipse cx="1167.28" cy="545.03" rx="3.55" ry="4.62" fill="url(#gloww)" opacity="0.34"/>
<ellipse cx="1368.45" cy="468.78" rx="4.62" ry="6" fill="url(#gloww)" opacity="0.26"/>
<ellipse cx="1385.74" cy="720.71" rx="3.03" ry="3.94" fill="url(#gloww)" opacity="0.23"/>
<ellipse cx="1105.51" cy="442.87" rx="4.2" ry="5.45" fill="url(#gloww)" opacity="0.31"/>
<ellipse cx="1083.51" cy="673.91" rx="3.8" ry="4.95" fill="url(#gloww)" opacity="0.24"/>
<ellipse cx="1154.54" cy="714.17" rx="3.11" ry="4.05" fill="url(#gloww)" opacity="0.28"/>
<ellipse cx="1184.87" cy="698.5" rx="4.46" ry="5.8" fill="url(#gloww)" opacity="0.25"/>
<ellipse cx="1314.9" cy="651.68" rx="3.64" ry="4.73" fill="url(#gloww)" opacity="0.25"/>
<ellipse cx="1123.36" cy="647.66" rx="3.44" ry="4.47" fill="url(#gloww)" opacity="0.25"/>
<ellipse cx="1088.68" cy="741.88" rx="4.76" ry="6.19" fill="url(#gloww)" opacity="0.34"/>
<ellipse cx="1326.73" cy="571.51" rx="3.99" ry="5.19" fill="url(#gloww)" opacity="0.35"/>
<ellipse cx="1459.69" cy="651.29" rx="4.57" ry="5.94" fill="url(#gloww)" opacity="0.25"/>
<ellipse cx="1238.4" cy="480.66" rx="3.75" ry="4.88" fill="url(#gloww)" opacity="0.31"/>
<ellipse cx="1262.49" cy="709.46" rx="3.6" ry="4.68" fill="url(#gloww)" opacity="0.31"/>
<ellipse cx="1402.47" cy="730.84" rx="4.12" ry="5.36" fill="url(#gloww)" opacity="0.35"/>
<ellipse cx="1297.78" cy="475.72" rx="3.49" ry="4.53" fill="url(#gloww)" opacity="0.23"/>
<ellipse cx="1335.46" cy="733.28" rx="4.69" ry="6.1" fill="url(#gloww)" opacity="0.21"/>
<ellipse cx="1368.27" cy="494.15" rx="3.54" ry="4.6" fill="url(#gloww)" opacity="0.30"/>
<ellipse cx="1317.01" cy="717.4" rx="7.88" ry="6.31" fill="url(#glowk)" opacity="0.30"/>
<ellipse cx="1368.15" cy="614.53" rx="10.79" ry="8.64" fill="url(#glowk)" opacity="0.32"/>
<ellipse cx="1203.28" cy="744.65" rx="6.15" ry="4.92" fill="url(#glowk)" opacity="0.34"/>
<ellipse cx="1468.32" cy="470.24" rx="16" ry="12.8" fill="url(#glowk)" opacity="0.25"/>
<ellipse cx="1165.2" cy="629.42" rx="8.05" ry="6.44" fill="url(#glowk)" opacity="0.33"/>
<ellipse cx="1295.59" cy="685.34" rx="9.81" ry="7.85" fill="url(#glowk)" opacity="0.26"/>
<ellipse cx="1214.36" cy="517.38" rx="11.13" ry="8.9" fill="url(#glowk)" opacity="0.25"/>
<ellipse cx="1104.54" cy="752.59" rx="10.69" ry="8.56" fill="url(#glowk)" opacity="0.32"/>
<ellipse cx="1448.21" cy="553.05" rx="10.14" ry="8.11" fill="url(#glowk)" opacity="0.26"/>
<ellipse cx="1156.22" cy="479.59" rx="8.61" ry="6.89" fill="url(#glowk)" opacity="0.34"/>
<ellipse cx="1306.99" cy="568.36" rx="7.52" ry="6.02" fill="url(#glowk)" opacity="0.22"/>
<ellipse cx="1223.03" cy="704.24" rx="10.99" ry="8.79" fill="url(#glowk)" opacity="0.28"/>
<ellipse cx="1351.53" cy="515.99" rx="14.22" ry="11.37" fill="url(#glowk)" opacity="0.34"/>
<ellipse cx="1333.35" cy="592.23" rx="7.68" ry="6.15" fill="url(#glowk)" opacity="0.31"/>
<ellipse cx="1134.31" cy="667.3" rx="10.88" ry="8.71" fill="url(#glowk)" opacity="0.33"/>
<ellipse cx="1291.4" cy="641.64" rx="6.59" ry="5.27" fill="url(#glowk)" opacity="0.16"/>
<ellipse cx="1419.71" cy="740.79" rx="12.68" ry="10.15" fill="url(#glowk)" opacity="0.30"/>
<ellipse cx="1236.74" cy="707.24" rx="8.31" ry="6.65" fill="url(#glowk)" opacity="0.29"/>
<ellipse cx="1066.85" cy="597.17" rx="9.73" ry="7.79" fill="url(#glowk)" opacity="0.27"/>
<ellipse cx="1343.9" cy="633.38" rx="10.83" ry="8.67" fill="url(#glowk)" opacity="0.25"/>
<ellipse cx="1065.79" cy="612.18" rx="6.12" ry="4.89" fill="url(#glowk)" opacity="0.26"/>
<ellipse cx="1178.75" cy="751.34" rx="6.17" ry="4.94" fill="url(#glowk)" opacity="0.31"/>
<ellipse cx="1346.97" cy="695.36" rx="15.1" ry="12.08" fill="url(#glowk)" opacity="0.17"/>
<ellipse cx="1103.58" cy="480.56" rx="7.92" ry="6.34" fill="url(#glowk)" opacity="0.26"/>
<ellipse cx="1406.45" cy="519.26" rx="9.97" ry="7.98" fill="url(#glowk)" opacity="0.22"/>
<ellipse cx="1234.06" cy="616.54" rx="15.9" ry="12.72" fill="url(#glowk)" opacity="0.20"/>
<ellipse cx="1351.19" cy="708.98" rx="12.54" ry="10.03" fill="url(#glowk)" opacity="0.32"/>
<ellipse cx="1383.01" cy="462.46" rx="9.79" ry="7.83" fill="url(#glowk)" opacity="0.26"/>
<ellipse cx="1086.64" cy="434.99" rx="7.71" ry="6.17" fill="url(#glowk)" opacity="0.25"/>
<ellipse cx="1245.81" cy="688.23" rx="11.66" ry="9.33" fill="url(#glowk)" opacity="0.32"/>
<ellipse cx="1103.18" cy="604.5" rx="6.43" ry="5.14" fill="url(#glowk)" opacity="0.19"/>
<ellipse cx="1428.74" cy="721.95" rx="10.76" ry="8.6" fill="url(#glowk)" opacity="0.16"/>
<ellipse cx="1094.32" cy="734.38" rx="14.99" ry="11.99" fill="url(#glowk)" opacity="0.26"/>
<ellipse cx="1076.86" cy="735.42" rx="9.14" ry="7.32" fill="url(#glowk)" opacity="0.34"/>
<ellipse cx="1310.32" cy="677.74" rx="13.13" ry="10.5" fill="url(#glowk)" opacity="0.23"/>
<ellipse cx="1095.41" cy="484.99" rx="8.4" ry="6.72" fill="url(#glowk)" opacity="0.32"/>
<ellipse cx="1226.95" cy="724.88" rx="9.32" ry="7.45" fill="url(#glowk)" opacity="0.30"/>
<ellipse cx="1121.96" cy="754.93" rx="13.24" ry="10.59" fill="url(#glowk)" opacity="0.25"/>
<ellipse cx="1473.48" cy="449.45" rx="10.37" ry="8.3" fill="url(#glowk)" opacity="0.32"/>
<ellipse cx="1206.49" cy="683.21" rx="15.55" ry="12.44" fill="url(#glowk)" opacity="0.23"/>
</g>
<text transform="translate(1069.6,499.1) scale(1,1.05)" font-size="33.8" fill="#fff"><tspan stroke="#fff" stroke-width="0.7">ZnF</tspan><tspan font-size="18" dy="10">2</tspan><tspan dy="-10">-Zn</tspan><tspan font-size="18" dy="10">3</tspan><tspan dy="-10">(PO</tspan><tspan font-size="18" dy="10">4</tspan><tspan dy="-10">)</tspan><tspan font-size="18" dy="10">2</tspan><tspan dy="-10">@Zn (25 °C)</tspan></text>
<rect x="1084" y="725.7" width="118" height="15.2" fill="#e3e3e3"/>
<text transform="translate(1090.7,714.6) scale(1,1.05)" font-size="49" fill="#fff">5 µm</text>
<text transform="translate(1022.5,446.2) scale(1,1.05)" font-size="53" fill="#000">e</text>
</svg></body></html>
